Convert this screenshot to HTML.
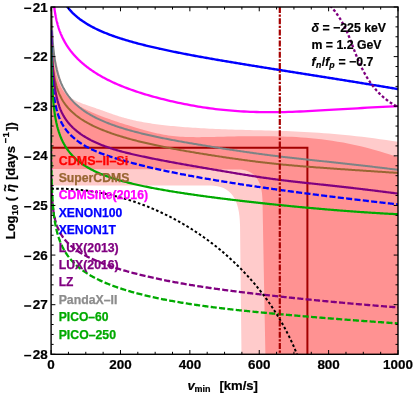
<!DOCTYPE html>
<html><head><meta charset="utf-8"><style>
html,body{margin:0;padding:0;background:#fff;}
body{width:413px;height:394px;overflow:hidden;}
svg{display:block;}
text{font-family:"Liberation Sans",sans-serif;font-weight:bold;}
.k text,text.k{stroke:#000;stroke-width:0.2px;}
</style></head><body>
<svg width="413" height="394" viewBox="0 0 413 394" style="will-change:transform">
<rect width="413" height="394" fill="#fff"/>
<defs><clipPath id="c"><rect x="51.1" y="7" width="346.9" height="347.3"/></clipPath></defs>
<g clip-path="url(#c)" fill="none" stroke-linecap="butt" stroke-linejoin="round">
<path d="M51.20 -8.38 L51.20 -8.00 L51.21 -7.61 L51.21 -7.22 L51.22 -6.83 L51.22 -6.44 L51.22 -6.05 L51.23 -5.66 L51.23 -5.27 L51.24 -4.88 L51.24 -4.48 L51.25 -4.09 L51.25 -3.70 L51.26 -3.30 L51.26 -2.90 L51.26 -2.51 L51.27 -2.11 L51.27 -1.71 L51.28 -1.32 L51.29 -0.92 L51.29 -0.52 L51.30 -0.12 L51.30 0.28 L51.31 0.68 L51.31 1.08 L51.32 1.48 L51.33 1.89 L51.33 2.29 L51.34 2.69 L51.34 3.09 L51.35 3.50 L51.36 3.90 L51.36 4.31 L51.37 4.71 L51.38 5.12 L51.38 5.52 L51.39 5.93 L51.40 6.33 L51.41 6.74 L51.41 7.15 L51.42 7.55 L51.43 7.96 L51.44 8.37 L51.45 8.78 L51.46 9.18 L51.46 9.59 L51.47 10.00 L51.48 10.41 L51.49 10.82 L51.50 11.23 L51.51 11.64 L51.52 12.05 L51.53 12.46 L51.54 12.87 L51.55 13.28 L51.56 13.69 L51.57 14.10 L51.58 14.51 L51.59 14.92 L51.60 15.33 L51.61 15.74 L51.63 16.15 L51.64 16.56 L51.65 16.97 L51.66 17.38 L51.67 17.79 L51.69 18.20 L51.70 18.61 L51.71 19.02 L51.73 19.43 L51.74 19.84 L51.75 20.25 L51.77 20.66 L51.78 21.07 L51.80 21.48 L51.81 21.89 L51.83 22.30 L51.84 22.71 L51.86 23.11 L51.88 23.52 L51.89 23.93 L51.91 24.34 L51.93 24.75 L51.94 25.16 L51.96 25.56 L51.98 25.97 L52.00 26.38 L52.02 26.78 L52.04 27.19 L52.06 27.60 L52.08 28.00 L52.10 28.41 L52.12 28.81 L52.14 29.22 L52.16 29.62 L52.18 30.03 L52.20 30.43 L52.23 30.83 L52.25 31.24 L52.27 31.64 L52.30 32.04 L52.32 32.44 L52.35 32.84 L52.37 33.24 L52.40 33.64 L52.42 34.04 L52.45 34.44 L52.48 34.84 L52.51 35.24 L52.54 35.64 L52.56 36.03 L52.59 36.43 L52.62 36.82 L52.65 37.22 L52.69 37.61 L52.72 38.01 L52.75 38.40 L52.78 38.79 L52.82 39.18 L52.85 39.58 L52.89 39.97 L52.92 40.36 L52.96 40.74 L53.00 41.13 L53.03 41.52 L53.07 41.91 L53.11 42.29 L53.15 42.68 L53.19 43.06 L53.23 43.45 L53.27 43.83 L53.32 44.21 L53.36 44.59 L53.41 44.97 L53.45 45.35 L53.50 45.73 L53.54 46.11 L53.59 46.48 L53.64 46.86 L53.69 47.23 L53.74 47.61 L53.79 47.98 L53.85 48.35 L53.90 48.72 L53.95 49.09 L54.01 49.46 L54.07 49.83 L54.13 50.20 L54.18 50.57 L54.24 50.93 L54.31 51.30 L54.37 51.67 L54.43 52.03 L54.50 52.40 L54.56 52.77 L54.63 53.14 L54.70 53.51 L54.77 53.88 L54.84 54.26 L54.91 54.64 L54.99 55.02 L55.06 55.40 L55.14 55.78 L55.22 56.17 L55.30 56.56 L55.38 56.95 L55.46 57.35 L55.54 57.75 L55.63 58.16 L55.72 58.57 L55.81 58.98 L55.90 59.40 L55.99 59.83 L56.08 60.26 L56.18 60.70 L56.28 61.14 L56.38 61.59 L56.48 62.04 L56.58 62.50 L56.69 62.97 L56.79 63.44 L56.90 63.92 L57.01 64.41 L57.13 64.91 L57.24 65.41 L57.36 65.93 L57.48 66.45 L57.60 66.98 L57.73 67.52 L57.86 68.06 L57.98 68.62 L58.12 69.19 L58.25 69.76 L58.39 70.35 L58.53 70.94 L58.67 71.54 L58.81 72.14 L58.96 72.75 L59.11 73.37 L59.27 73.99 L59.42 74.61 L59.58 75.24 L59.74 75.87 L59.91 76.50 L60.08 77.13 L60.25 77.77 L60.42 78.40 L60.60 79.03 L60.78 79.66 L60.96 80.29 L61.15 80.92 L61.34 81.54 L61.54 82.16 L61.74 82.77 L61.94 83.38 L62.15 83.98 L62.36 84.58 L62.57 85.16 L62.79 85.74 L63.01 86.32 L63.24 86.88 L63.47 87.43 L63.71 87.97 L63.95 88.50 L64.19 89.02 L64.44 89.53 L64.69 90.02 L64.95 90.50 L65.22 90.97 L65.48 91.42 L65.76 91.87 L66.04 92.30 L66.32 92.72 L66.61 93.13 L66.90 93.53 L67.20 93.92 L67.51 94.30 L67.82 94.67 L68.14 95.03 L68.46 95.39 L68.79 95.73 L69.13 96.07 L69.47 96.39 L69.82 96.71 L70.17 97.02 L70.54 97.33 L70.91 97.63 L71.28 97.92 L71.66 98.20 L72.05 98.48 L72.45 98.75 L72.86 99.02 L73.27 99.28 L73.69 99.54 L74.12 99.79 L74.55 100.04 L75.00 100.29 L75.45 100.53 L75.91 100.77 L76.38 101.00 L76.86 101.23 L77.35 101.46 L77.85 101.69 L78.35 101.92 L78.87 102.14 L79.40 102.36 L79.93 102.58 L80.48 102.81 L81.04 103.03 L81.60 103.25 L82.18 103.47 L82.77 103.69 L83.37 103.91 L83.98 104.14 L84.60 104.36 L85.24 104.59 L85.88 104.82 L86.54 105.05 L87.21 105.28 L87.90 105.52 L88.59 105.76 L89.30 106.00 L90.03 106.25 L90.76 106.50 L91.51 106.75 L92.28 107.01 L93.06 107.28 L93.85 107.55 L94.66 107.83 L95.48 108.11 L96.32 108.40 L97.18 108.69 L98.05 108.99 L98.94 109.30 L99.84 109.62 L100.77 109.94 L101.70 110.27 L102.66 110.61 L103.64 110.96 L104.63 111.32 L105.64 111.68 L106.67 112.05 L107.73 112.43 L108.80 112.82 L109.89 113.21 L111.00 113.60 L112.13 114.00 L113.29 114.40 L114.46 114.80 L115.66 115.20 L116.88 115.61 L118.12 116.01 L119.39 116.41 L120.68 116.81 L122.00 117.21 L123.34 117.60 L124.70 117.99 L126.09 118.37 L127.51 118.75 L128.96 119.12 L130.43 119.49 L131.93 119.85 L133.45 120.20 L135.01 120.54 L136.60 120.88 L138.21 121.21 L139.86 121.54 L141.54 121.85 L143.24 122.17 L144.99 122.47 L146.76 122.77 L148.57 123.06 L150.41 123.35 L152.29 123.63 L154.20 123.91 L156.15 124.17 L158.13 124.44 L160.15 124.69 L162.21 124.94 L164.31 125.19 L166.45 125.43 L168.63 125.66 L170.85 125.89 L173.11 126.11 L175.42 126.32 L177.77 126.53 L180.16 126.74 L182.60 126.94 L185.08 127.13 L187.61 127.32 L190.19 127.50 L192.82 127.68 L195.50 127.86 L198.23 128.02 L201.00 128.19 L203.84 128.34 L206.72 128.50 L209.66 128.64 L212.66 128.79 L215.71 128.92 L218.82 129.06 L221.98 129.18 L225.21 129.31 L228.50 129.43 L231.85 129.54 L235.26 129.65 L238.74 129.75 L242.29 129.85 L245.90 129.95 L249.58 130.04 L253.33 130.14 L257.14 130.23 L261.04 130.32 L265.00 130.42 L269.04 130.53 L273.16 130.65 L277.35 130.78 L281.62 130.92 L285.98 131.08 L290.41 131.26 L294.93 131.46 L299.54 131.68 L304.23 131.92 L309.01 132.20 L313.88 132.50 L318.84 132.83 L323.90 133.19 L329.05 133.59 L334.30 134.03 L339.64 134.51 L345.09 135.02 L350.64 135.58 L356.30 136.19 L362.06 136.85 L367.94 137.55 L373.92 138.31 L380.01 139.13 L386.22 139.99 L392.55 140.92 L399.00 141.91 L398 355 L241.5 355 L240.3 250 L240.05 226 C239.9 199 230.5 185.6 210.5 185.6 L51 185.4 Z" fill="#ffcbcb" stroke="none"/>
<path d="M51.15 -2.49 L51.15 -2.09 L51.16 -1.69 L51.16 -1.29 L51.16 -0.89 L51.17 -0.48 L51.17 -0.08 L51.17 0.33 L51.18 0.73 L51.18 1.14 L51.18 1.54 L51.19 1.95 L51.19 2.36 L51.19 2.76 L51.20 3.17 L51.20 3.58 L51.20 3.99 L51.21 4.40 L51.21 4.81 L51.22 5.22 L51.22 5.63 L51.23 6.04 L51.23 6.45 L51.23 6.86 L51.24 7.27 L51.24 7.69 L51.25 8.10 L51.25 8.51 L51.26 8.93 L51.26 9.34 L51.27 9.75 L51.27 10.17 L51.28 10.58 L51.28 11.00 L51.29 11.42 L51.30 11.83 L51.30 12.25 L51.31 12.67 L51.31 13.08 L51.32 13.50 L51.33 13.92 L51.33 14.34 L51.34 14.76 L51.35 15.17 L51.35 15.59 L51.36 16.01 L51.37 16.43 L51.37 16.85 L51.38 17.27 L51.39 17.69 L51.40 18.11 L51.40 18.53 L51.41 18.96 L51.42 19.38 L51.43 19.80 L51.44 20.22 L51.45 20.64 L51.45 21.06 L51.46 21.49 L51.47 21.91 L51.48 22.33 L51.49 22.76 L51.50 23.18 L51.51 23.60 L51.52 24.03 L51.53 24.45 L51.54 24.87 L51.55 25.30 L51.56 25.72 L51.57 26.15 L51.58 26.57 L51.60 27.00 L51.61 27.42 L51.62 27.85 L51.63 28.27 L51.64 28.70 L51.66 29.12 L51.67 29.55 L51.68 29.97 L51.70 30.40 L51.71 30.82 L51.72 31.25 L51.74 31.67 L51.75 32.10 L51.77 32.52 L51.78 32.95 L51.80 33.38 L51.81 33.80 L51.83 34.23 L51.84 34.65 L51.86 35.08 L51.88 35.51 L51.90 35.93 L51.91 36.36 L51.93 36.78 L51.95 37.21 L51.97 37.63 L51.99 38.06 L52.01 38.49 L52.03 38.91 L52.05 39.34 L52.07 39.76 L52.09 40.19 L52.11 40.61 L52.13 41.04 L52.15 41.47 L52.18 41.89 L52.20 42.32 L52.22 42.74 L52.25 43.17 L52.27 43.59 L52.30 44.02 L52.32 44.44 L52.35 44.86 L52.37 45.29 L52.40 45.71 L52.43 46.14 L52.46 46.56 L52.48 46.98 L52.51 47.41 L52.54 47.83 L52.57 48.25 L52.60 48.68 L52.64 49.10 L52.67 49.52 L52.70 49.95 L52.73 50.37 L52.77 50.79 L52.80 51.21 L52.84 51.63 L52.87 52.05 L52.91 52.48 L52.95 52.90 L52.99 53.32 L53.02 53.74 L53.06 54.16 L53.10 54.58 L53.15 55.00 L53.19 55.42 L53.23 55.84 L53.27 56.25 L53.32 56.67 L53.37 57.09 L53.41 57.51 L53.46 57.93 L53.51 58.34 L53.56 58.76 L53.61 59.18 L53.66 59.59 L53.71 60.01 L53.76 60.42 L53.82 60.84 L53.87 61.25 L53.93 61.67 L53.99 62.08 L54.04 62.50 L54.10 62.91 L54.16 63.32 L54.23 63.73 L54.29 64.15 L54.35 64.56 L54.42 64.97 L54.49 65.38 L54.56 65.79 L54.63 66.20 L54.70 66.61 L54.77 67.02 L54.84 67.43 L54.92 67.84 L55.00 68.24 L55.07 68.65 L55.15 69.06 L55.24 69.46 L55.32 69.87 L55.40 70.27 L55.49 70.68 L55.58 71.08 L55.67 71.49 L55.76 71.89 L55.85 72.29 L55.95 72.69 L56.04 73.10 L56.14 73.50 L56.24 73.90 L56.35 74.30 L56.45 74.70 L56.56 75.10 L56.67 75.49 L56.78 75.89 L56.89 76.29 L57.01 76.69 L57.13 77.08 L57.25 77.48 L57.37 77.87 L57.49 78.27 L57.62 78.66 L57.75 79.05 L57.88 79.44 L58.02 79.84 L58.16 80.23 L58.30 80.62 L58.44 81.01 L58.58 81.39 L58.73 81.78 L58.88 82.17 L59.04 82.56 L59.20 82.94 L59.36 83.33 L59.52 83.71 L59.69 84.10 L59.86 84.48 L60.03 84.86 L60.21 85.25 L60.39 85.63 L60.58 86.01 L60.76 86.39 L60.95 86.77 L61.15 87.14 L61.35 87.52 L61.55 87.90 L61.76 88.27 L61.97 88.65 L62.18 89.02 L62.40 89.40 L62.63 89.77 L62.86 90.14 L63.09 90.51 L63.33 90.88 L63.57 91.25 L63.81 91.62 L64.06 91.99 L64.32 92.35 L64.58 92.72 L64.85 93.09 L65.12 93.45 L65.40 93.81 L65.68 94.18 L65.97 94.54 L66.26 94.90 L66.56 95.26 L66.87 95.62 L67.18 95.98 L67.49 96.33 L67.82 96.69 L68.15 97.05 L68.48 97.40 L68.83 97.75 L69.18 98.11 L69.53 98.46 L69.90 98.81 L70.27 99.16 L70.64 99.51 L71.03 99.85 L71.42 100.20 L71.82 100.55 L72.23 100.89 L72.65 101.24 L73.07 101.58 L73.50 101.92 L73.95 102.26 L74.40 102.60 L74.85 102.94 L75.32 103.28 L75.80 103.62 L76.29 103.95 L76.78 104.29 L77.29 104.62 L77.80 104.96 L78.33 105.29 L78.86 105.63 L79.41 105.96 L79.97 106.29 L80.54 106.63 L81.12 106.96 L81.71 107.30 L82.31 107.63 L82.92 107.97 L83.55 108.30 L84.19 108.64 L84.84 108.98 L85.50 109.31 L86.18 109.65 L86.87 109.99 L87.57 110.33 L88.29 110.68 L89.02 111.02 L89.77 111.36 L90.53 111.71 L91.30 112.06 L92.09 112.41 L92.90 112.76 L93.72 113.11 L94.56 113.47 L95.41 113.83 L96.28 114.19 L97.17 114.55 L98.08 114.92 L99.00 115.28 L99.94 115.65 L100.90 116.03 L101.88 116.40 L102.88 116.78 L103.89 117.16 L104.93 117.55 L105.99 117.94 L107.07 118.33 L108.17 118.72 L109.29 119.12 L110.43 119.52 L111.60 119.93 L112.78 120.34 L114.00 120.75 L115.23 121.17 L116.49 121.59 L117.78 122.02 L119.09 122.45 L120.42 122.88 L121.78 123.32 L123.17 123.76 L124.59 124.21 L126.03 124.67 L127.50 125.12 L129.00 125.59 L130.53 126.06 L132.09 126.53 L133.68 127.01 L135.30 127.49 L136.96 127.98 L138.64 128.48 L140.36 128.98 L142.11 129.49 L143.90 130.00 L145.72 130.50 L147.58 131.01 L149.47 131.51 L151.40 132.01 L153.37 132.50 L155.38 132.97 L157.43 133.43 L159.52 133.87 L161.64 134.29 L163.81 134.69 L166.03 135.07 L168.28 135.41 L170.58 135.73 L172.93 136.02 L175.32 136.27 L177.76 136.48 L180.24 136.66 L182.78 136.81 L185.36 136.93 L188.00 137.02 L190.68 137.08 L193.42 137.12 L196.22 137.14 L199.06 137.14 L201.97 137.12 L204.93 137.09 L207.95 137.04 L211.02 136.98 L214.16 136.91 L217.36 136.83 L220.63 136.75 L223.95 136.67 L227.34 136.59 L230.80 136.50 L234.33 136.42 L237.92 136.35 L241.59 136.28 L245.33 136.23 L249.14 136.18 L253.02 136.15 L256.99 136.14 L261.03 136.14 L265.15 136.16 L269.35 136.21 L273.63 136.28 L277.99 136.38 L282.45 136.50 L286.98 136.66 L291.61 136.86 L296.33 137.11 L301.14 137.41 L306.05 137.77 L311.05 138.21 L316.15 138.71 L321.35 139.30 L326.65 139.98 L332.06 140.76 L337.57 141.64 L343.19 142.62 L348.92 143.73 L354.76 144.96 L360.72 146.32 L366.79 147.82 L372.99 149.47 L379.30 151.27 L385.74 153.22 L392.31 155.35 L399.00 157.64 L398 355 L265.4 355 L263.4 250 L262.5 200 C262.2 180 254 169.6 238 169.6 L51 168.9 Z" fill="#ff9292" stroke="none"/>
<path d="M51 147.8 H307.4 V355" stroke="#a30000" stroke-width="2" stroke-linejoin="miter"/>
<path d="M52.27 -49.21 L52.39 -47.24 L52.52 -45.26 L52.66 -43.29 L52.82 -41.32 L52.99 -39.34 L53.17 -37.37 L53.38 -35.40 L53.60 -33.43 L53.84 -31.46 L54.11 -29.49 L54.40 -27.51 L54.72 -25.54 L55.07 -23.57 L55.46 -21.61 L55.88 -19.64 L56.33 -17.67 L56.83 -15.70 L57.38 -13.74 L57.98 -11.77 L58.64 -9.81 L59.36 -7.84 L60.14 -5.88 L61.00 -3.92 L61.50 -2.85 L62.63 -0.63 L63.75 1.39 L64.88 3.24 L66.01 4.94 L67.14 6.52 L68.26 7.99 L69.39 9.36 L70.52 10.66 L71.64 11.88 L72.77 13.04 L73.90 14.13 L75.03 15.18 L76.15 16.17 L77.28 17.13 L78.41 18.04 L79.53 18.92 L80.66 19.76 L81.79 20.57 L82.91 21.35 L84.04 22.10 L85.17 22.83 L86.30 23.54 L87.42 24.22 L88.55 24.89 L89.68 25.53 L90.80 26.16 L91.93 26.76 L93.06 27.36 L94.19 27.93 L95.31 28.50 L96.44 29.04 L97.57 29.58 L98.69 30.10 L99.82 30.61 L100.95 31.11 L102.08 31.60 L103.20 32.08 L104.33 32.55 L105.46 33.01 L106.58 33.46 L107.71 33.90 L108.84 34.34 L109.96 34.76 L111.09 35.18 L112.22 35.59 L113.35 36.00 L114.47 36.39 L115.60 36.79 L116.73 37.17 L117.85 37.55 L118.98 37.92 L120.11 38.29 L121.24 38.65 L122.36 39.01 L123.49 39.36 L124.62 39.71 L125.74 40.05 L126.87 40.39 L128.00 40.72 L129.13 41.05 L130.25 41.37 L131.38 41.69 L132.51 42.01 L133.63 42.32 L134.76 42.63 L135.89 42.94 L137.02 43.24 L138.14 43.54 L139.27 43.84 L140.40 44.13 L141.52 44.42 L142.65 44.71 L143.78 44.99 L144.90 45.27 L146.03 45.55 L147.16 45.83 L148.29 46.10 L149.41 46.37 L150.54 46.64 L151.67 46.90 L152.79 47.17 L153.92 47.43 L155.05 47.69 L156.18 47.95 L157.30 48.20 L158.43 48.45 L159.56 48.71 L160.68 48.95 L161.81 49.20 L162.94 49.45 L164.07 49.69 L165.19 49.93 L166.32 50.17 L167.45 50.41 L168.57 50.65 L169.70 50.88 L170.83 51.12 L171.95 51.35 L173.08 51.58 L174.21 51.81 L175.34 52.04 L176.46 52.27 L177.59 52.49 L178.72 52.72 L179.84 52.94 L180.97 53.16 L182.10 53.38 L183.23 53.60 L184.35 53.82 L185.48 54.04 L186.61 54.25 L187.73 54.47 L188.86 54.68 L189.99 54.90 L191.12 55.11 L192.24 55.32 L193.37 55.53 L194.50 55.74 L195.62 55.95 L196.75 56.15 L197.88 56.36 L199.01 56.57 L200.13 56.77 L201.26 56.97 L202.39 57.18 L203.51 57.38 L204.64 57.58 L205.77 57.78 L206.89 57.98 L208.02 58.18 L209.15 58.38 L210.28 58.58 L211.40 58.78 L212.53 58.98 L213.66 59.17 L214.78 59.37 L215.91 59.56 L217.04 59.76 L218.17 59.95 L219.29 60.14 L220.42 60.34 L221.55 60.53 L222.67 60.72 L223.80 60.91 L224.93 61.11 L226.06 61.30 L227.18 61.49 L228.31 61.68 L229.44 61.86 L230.56 62.05 L231.69 62.24 L232.82 62.43 L233.94 62.62 L235.07 62.80 L236.20 62.99 L237.33 63.18 L238.45 63.36 L239.58 63.55 L240.71 63.74 L241.83 63.92 L242.96 64.11 L244.09 64.29 L245.22 64.47 L246.34 64.66 L247.47 64.84 L248.60 65.03 L249.72 65.21 L250.85 65.39 L251.98 65.57 L253.11 65.76 L254.23 65.94 L255.36 66.12 L256.49 66.30 L257.61 66.49 L258.74 66.67 L259.87 66.85 L260.99 67.03 L262.12 67.21 L263.25 67.39 L264.38 67.57 L265.50 67.75 L266.63 67.93 L267.76 68.11 L268.88 68.29 L270.01 68.47 L271.14 68.65 L272.27 68.83 L273.39 69.01 L274.52 69.19 L275.65 69.37 L276.77 69.55 L277.90 69.73 L279.03 69.91 L280.16 70.08 L281.28 70.26 L282.41 70.44 L283.54 70.62 L284.66 70.80 L285.79 70.98 L286.92 71.16 L288.05 71.34 L289.17 71.51 L290.30 71.69 L291.43 71.87 L292.55 72.05 L293.68 72.23 L294.81 72.41 L295.93 72.58 L297.06 72.76 L298.19 72.94 L299.32 73.12 L300.44 73.30 L301.57 73.48 L302.70 73.65 L303.82 73.83 L304.95 74.01 L306.08 74.19 L307.21 74.37 L308.33 74.55 L309.46 74.72 L310.59 74.90 L311.71 75.08 L312.84 75.26 L313.97 75.44 L315.10 75.62 L316.22 75.80 L317.35 75.97 L318.48 76.15 L319.60 76.33 L320.73 76.51 L321.86 76.69 L322.98 76.87 L324.11 77.05 L325.24 77.23 L326.37 77.41 L327.49 77.59 L328.62 77.77 L329.75 77.95 L330.87 78.13 L332.00 78.31 L333.13 78.49 L334.26 78.67 L335.38 78.85 L336.51 79.03 L337.64 79.21 L338.76 79.39 L339.89 79.57 L341.02 79.75 L342.15 79.93 L343.27 80.11 L344.40 80.29 L345.53 80.47 L346.65 80.65 L347.78 80.84 L348.91 81.02 L350.04 81.20 L351.16 81.38 L352.29 81.56 L353.42 81.75 L354.54 81.93 L355.67 82.11 L356.80 82.29 L357.92 82.48 L359.05 82.66 L360.18 82.84 L361.31 83.03 L362.43 83.21 L363.56 83.39 L364.69 83.58 L365.81 83.76 L366.94 83.95 L368.07 84.13 L369.20 84.31 L370.32 84.50 L371.45 84.68 L372.58 84.87 L373.70 85.06 L374.83 85.24 L375.96 85.43 L377.09 85.61 L378.21 85.80 L379.34 85.98 L380.47 86.17 L381.59 86.36 L382.72 86.54 L383.85 86.73 L384.97 86.92 L386.10 87.11 L387.23 87.29 L388.36 87.48 L389.48 87.67 L390.61 87.86 L391.74 88.05 L392.86 88.24 L393.99 88.43 L395.12 88.61 L396.25 88.80 L397.37 88.99 L398.50 89.18" stroke="#0000ff" stroke-width="2.4"/>
<path d="M51.60 -39.67 L51.61 -39.15 L51.62 -38.63 L51.63 -38.12 L51.64 -37.61 L51.65 -37.10 L51.66 -36.59 L51.67 -36.08 L51.68 -35.58 L51.69 -35.08 L51.70 -34.58 L51.72 -34.08 L51.73 -33.58 L51.74 -33.08 L51.75 -32.59 L51.76 -32.09 L51.77 -31.60 L51.79 -31.11 L51.80 -30.63 L51.81 -30.14 L51.83 -29.65 L51.84 -29.17 L51.85 -28.69 L51.87 -28.21 L51.88 -27.73 L51.89 -27.26 L51.91 -26.78 L51.92 -26.31 L51.94 -25.83 L51.95 -25.36 L51.97 -24.89 L51.98 -24.43 L52.00 -23.96 L52.02 -23.49 L52.03 -23.03 L52.05 -22.57 L52.07 -22.11 L52.08 -21.65 L52.10 -21.19 L52.12 -20.73 L52.14 -20.28 L52.15 -19.83 L52.17 -19.37 L52.19 -18.92 L52.21 -18.47 L52.23 -18.02 L52.25 -17.58 L52.27 -17.13 L52.29 -16.69 L52.31 -16.24 L52.33 -15.80 L52.35 -15.36 L52.37 -14.92 L52.40 -14.48 L52.42 -14.04 L52.44 -13.61 L52.47 -13.17 L52.49 -12.74 L52.51 -12.30 L52.54 -11.87 L52.56 -11.44 L52.59 -11.01 L52.61 -10.59 L52.64 -10.16 L52.66 -9.73 L52.69 -9.31 L52.72 -8.88 L52.75 -8.46 L52.77 -8.04 L52.80 -7.62 L52.83 -7.20 L52.86 -6.78 L52.89 -6.36 L52.92 -5.94 L52.95 -5.53 L52.98 -5.11 L53.02 -4.70 L53.05 -4.28 L53.08 -3.87 L53.11 -3.46 L53.15 -3.05 L53.18 -2.64 L53.22 -2.23 L53.25 -1.82 L53.29 -1.42 L53.33 -1.01 L53.36 -0.60 L53.40 -0.20 L53.44 0.20 L53.48 0.61 L53.52 1.01 L53.56 1.41 L53.60 1.81 L53.64 2.21 L53.69 2.61 L53.73 3.01 L53.77 3.41 L53.82 3.81 L53.86 4.20 L53.91 4.60 L53.96 4.99 L54.00 5.39 L54.05 5.78 L54.10 6.18 L54.15 6.57 L54.20 6.96 L54.25 7.36 L54.31 7.75 L54.36 8.14 L54.41 8.53 L54.47 8.92 L54.52 9.31 L54.58 9.70 L54.64 10.08 L54.70 10.47 L54.76 10.86 L54.82 11.25 L54.88 11.63 L54.94 12.02 L55.00 12.40 L55.07 12.79 L55.13 13.17 L55.20 13.56 L55.27 13.94 L55.33 14.33 L55.40 14.71 L55.48 15.09 L55.55 15.48 L55.62 15.86 L55.69 16.24 L55.77 16.62 L55.85 17.00 L55.92 17.39 L56.00 17.77 L56.08 18.15 L56.17 18.53 L56.25 18.91 L56.33 19.29 L56.42 19.67 L56.51 20.05 L56.59 20.43 L56.68 20.81 L56.78 21.19 L56.87 21.57 L56.96 21.95 L57.06 22.33 L57.16 22.70 L57.26 23.08 L57.36 23.46 L57.46 23.84 L57.56 24.22 L57.67 24.60 L57.77 24.98 L57.88 25.36 L57.99 25.74 L58.11 26.11 L58.22 26.49 L58.34 26.87 L58.45 27.25 L58.57 27.63 L58.70 28.01 L58.82 28.39 L58.95 28.77 L59.07 29.15 L59.20 29.53 L59.34 29.91 L59.47 30.29 L59.61 30.67 L59.74 31.05 L59.88 31.43 L60.03 31.81 L60.17 32.19 L60.32 32.57 L60.47 32.95 L60.62 33.33 L60.78 33.71 L60.93 34.10 L61.09 34.48 L61.26 34.86 L61.42 35.24 L61.59 35.63 L61.76 36.01 L61.93 36.40 L62.11 36.78 L62.29 37.16 L62.47 37.55 L62.65 37.94 L62.84 38.32 L63.03 38.71 L63.22 39.09 L63.42 39.48 L63.62 39.87 L63.82 40.26 L64.03 40.65 L64.24 41.03 L64.45 41.42 L64.67 41.81 L64.89 42.21 L65.11 42.60 L65.34 42.99 L65.57 43.38 L65.80 43.77 L66.04 44.17 L66.28 44.56 L66.53 44.96 L66.77 45.35 L67.03 45.75 L67.29 46.14 L67.55 46.54 L67.81 46.94 L68.08 47.34 L68.36 47.74 L68.64 48.14 L68.92 48.54 L69.21 48.94 L69.50 49.34 L69.80 49.74 L70.10 50.15 L70.41 50.55 L70.72 50.96 L71.04 51.36 L71.36 51.77 L71.69 52.18 L72.02 52.59 L72.36 53.00 L72.70 53.41 L73.05 53.82 L73.40 54.23 L73.76 54.64 L74.13 55.06 L74.50 55.47 L74.88 55.89 L75.26 56.30 L75.65 56.72 L76.05 57.14 L76.45 57.56 L76.86 57.98 L77.28 58.40 L77.70 58.82 L78.13 59.25 L78.57 59.67 L79.01 60.10 L79.46 60.52 L79.92 60.95 L80.38 61.38 L80.85 61.81 L81.33 62.24 L81.82 62.68 L82.32 63.11 L82.82 63.54 L83.33 63.98 L83.85 64.41 L84.38 64.85 L84.92 65.29 L85.46 65.73 L86.01 66.17 L86.58 66.61 L87.15 67.05 L87.73 67.49 L88.32 67.94 L88.92 68.38 L89.53 68.83 L90.15 69.27 L90.78 69.72 L91.42 70.17 L92.07 70.61 L92.73 71.06 L93.40 71.51 L94.08 71.96 L94.77 72.41 L95.48 72.86 L96.19 73.32 L96.92 73.77 L97.66 74.22 L98.41 74.67 L99.17 75.13 L99.94 75.58 L100.73 76.03 L101.53 76.49 L102.34 76.94 L103.17 77.40 L104.01 77.86 L104.86 78.31 L105.72 78.77 L106.60 79.22 L107.50 79.68 L108.41 80.14 L109.33 80.59 L110.27 81.05 L111.22 81.51 L112.19 81.97 L113.17 82.43 L114.17 82.88 L115.19 83.34 L116.22 83.80 L117.27 84.26 L118.33 84.71 L119.41 85.17 L120.51 85.63 L121.63 86.09 L122.77 86.55 L123.92 87.00 L125.09 87.46 L126.28 87.92 L127.49 88.38 L128.72 88.83 L129.97 89.29 L131.24 89.75 L132.53 90.20 L133.84 90.66 L135.17 91.11 L136.53 91.57 L137.90 92.02 L139.30 92.48 L140.72 92.93 L142.16 93.38 L143.63 93.84 L145.11 94.29 L146.63 94.74 L148.16 95.19 L149.73 95.65 L151.31 96.10 L152.93 96.55 L154.56 97.00 L156.23 97.44 L157.92 97.89 L159.64 98.34 L161.39 98.79 L163.16 99.23 L164.96 99.68 L166.80 100.12 L168.66 100.57 L170.55 101.01 L172.47 101.45 L174.42 101.89 L176.41 102.33 L178.42 102.77 L180.47 103.21 L182.55 103.64 L184.67 104.07 L186.82 104.49 L189.00 104.91 L191.22 105.32 L193.47 105.73 L195.76 106.13 L198.09 106.52 L200.45 106.91 L202.86 107.28 L205.30 107.65 L207.78 108.01 L210.30 108.36 L212.86 108.69 L215.46 109.02 L218.10 109.33 L220.79 109.63 L223.52 109.92 L226.29 110.19 L229.11 110.45 L231.97 110.69 L234.88 110.92 L237.84 111.13 L240.84 111.32 L243.90 111.50 L247.00 111.66 L250.15 111.80 L253.35 111.92 L256.60 112.02 L259.91 112.10 L263.26 112.16 L266.68 112.19 L270.14 112.21 L273.67 112.20 L277.25 112.17 L280.88 112.11 L284.58 112.03 L288.33 111.93 L292.15 111.81 L296.02 111.66 L299.96 111.50 L303.97 111.32 L308.03 111.12 L312.16 110.91 L316.36 110.69 L320.63 110.45 L324.96 110.20 L329.37 109.95 L333.84 109.68 L338.39 109.41 L343.01 109.13 L347.70 108.85 L352.47 108.57 L357.32 108.28 L362.24 108.00 L367.25 107.72 L372.33 107.44 L377.49 107.16 L382.74 106.89 L388.08 106.62 L393.49 106.37 L399.00 106.12" stroke="#ff00ff" stroke-width="2.3"/>
<path d="M51.05 -45.38 L51.05 -43.20 L51.06 -41.02 L51.07 -38.84 L51.07 -36.66 L51.08 -34.47 L51.09 -32.29 L51.09 -30.11 L51.10 -27.93 L51.11 -25.75 L51.12 -23.57 L51.13 -21.39 L51.15 -19.21 L51.16 -17.03 L51.18 -14.85 L51.19 -12.67 L51.21 -10.49 L51.23 -8.31 L51.25 -6.13 L51.28 -3.95 L51.30 -1.77 L51.33 0.41 L51.36 2.59 L51.39 4.77 L51.43 6.95 L51.47 9.13 L51.52 11.31 L51.56 13.49 L51.62 15.66 L51.68 17.84 L51.74 20.02 L51.81 22.20 L51.89 24.37 L51.97 26.55 L52.06 28.73 L52.16 30.90 L52.27 33.08 L52.39 35.25 L52.52 37.43 L52.66 39.60 L52.82 41.78 L52.99 43.95 L53.17 46.12 L53.38 48.29 L53.60 50.46 L53.84 52.63 L54.11 54.80 L54.40 56.96 L54.72 59.13 L55.07 61.29 L55.46 63.46 L55.88 65.62 L56.33 67.77 L56.83 69.93 L57.38 72.08 L57.98 74.24 L58.64 76.39 L59.36 78.53 L60.14 80.67 L61.00 82.81 L61.50 83.97 L62.63 86.40 L63.75 88.59 L64.88 90.59 L66.01 92.44 L67.14 94.14 L68.26 95.73 L69.39 97.22 L70.52 98.61 L71.64 99.92 L72.77 101.16 L73.90 102.34 L75.03 103.46 L76.15 104.52 L77.28 105.54 L78.41 106.51 L79.53 107.44 L80.66 108.33 L81.79 109.19 L82.91 110.02 L84.04 110.81 L85.17 111.58 L86.30 112.32 L87.42 113.04 L88.55 113.74 L89.68 114.41 L90.80 115.06 L91.93 115.70 L93.06 116.31 L94.19 116.91 L95.31 117.50 L96.44 118.06 L97.57 118.62 L98.69 119.16 L99.82 119.68 L100.95 120.20 L102.08 120.70 L103.20 121.19 L104.33 121.67 L105.46 122.13 L106.58 122.59 L107.71 123.04 L108.84 123.48 L109.96 123.91 L111.09 124.34 L112.22 124.75 L113.35 125.16 L114.47 125.56 L115.60 125.95 L116.73 126.33 L117.85 126.71 L118.98 127.08 L120.11 127.45 L121.24 127.80 L122.36 128.16 L123.49 128.50 L124.62 128.85 L125.74 129.18 L126.87 129.52 L128.00 129.84 L129.13 130.16 L130.25 130.48 L131.38 130.79 L132.51 131.10 L133.63 131.41 L134.76 131.71 L135.89 132.00 L137.02 132.29 L138.14 132.58 L139.27 132.87 L140.40 133.15 L141.52 133.42 L142.65 133.70 L143.78 133.97 L144.90 134.24 L146.03 134.50 L147.16 134.76 L148.29 135.02 L149.41 135.28 L150.54 135.53 L151.67 135.78 L152.79 136.03 L153.92 136.28 L155.05 136.52 L156.18 136.76 L157.30 137.00 L158.43 137.24 L159.56 137.47 L160.68 137.70 L161.81 137.93 L162.94 138.16 L164.07 138.39 L165.19 138.61 L166.32 138.83 L167.45 139.05 L168.57 139.27 L169.70 139.49 L170.83 139.70 L171.95 139.92 L173.08 140.13 L174.21 140.34 L175.34 140.55 L176.46 140.76 L177.59 140.96 L178.72 141.17 L179.84 141.37 L180.97 141.58 L182.10 141.78 L183.23 141.98 L184.35 142.18 L185.48 142.37 L186.61 142.57 L187.73 142.77 L188.86 142.96 L189.99 143.16 L191.12 143.35 L192.24 143.54 L193.37 143.73 L194.50 143.92 L195.62 144.11 L196.75 144.30 L197.88 144.49 L199.01 144.68 L200.13 144.86 L201.26 145.05 L202.39 145.23 L203.51 145.42 L204.64 145.60 L205.77 145.79 L206.89 145.97 L208.02 146.15 L209.15 146.33 L210.28 146.51 L211.40 146.69 L212.53 146.87 L213.66 147.05 L214.78 147.23 L215.91 147.41 L217.04 147.59 L218.17 147.77 L219.29 147.94 L220.42 148.12 L221.55 148.30 L222.67 148.47 L223.80 148.65 L224.93 148.82 L226.06 148.99 L227.18 149.17 L228.31 149.34 L229.44 149.51 L230.56 149.68 L231.69 149.86 L232.82 150.03 L233.94 150.20 L235.07 150.37 L236.20 150.54 L237.33 150.70 L238.45 150.87 L239.58 151.04 L240.71 151.21 L241.83 151.37 L242.96 151.54 L244.09 151.70 L245.22 151.87 L246.34 152.03 L247.47 152.19 L248.60 152.35 L249.72 152.51 L250.85 152.67 L251.98 152.83 L253.11 152.99 L254.23 153.15 L255.36 153.31 L256.49 153.46 L257.61 153.62 L258.74 153.77 L259.87 153.93 L260.99 154.08 L262.12 154.23 L263.25 154.38 L264.38 154.53 L265.50 154.68 L266.63 154.83 L267.76 154.97 L268.88 155.12 L270.01 155.26 L271.14 155.41 L272.27 155.55 L273.39 155.69 L274.52 155.84 L275.65 155.98 L276.77 156.11 L277.90 156.25 L279.03 156.39 L280.16 156.53 L281.28 156.66 L282.41 156.80 L283.54 156.93 L284.66 157.06 L285.79 157.20 L286.92 157.33 L288.05 157.46 L289.17 157.59 L290.30 157.72 L291.43 157.85 L292.55 157.97 L293.68 158.10 L294.81 158.23 L295.93 158.35 L297.06 158.48 L298.19 158.60 L299.32 158.73 L300.44 158.85 L301.57 158.97 L302.70 159.09 L303.82 159.22 L304.95 159.34 L306.08 159.46 L307.21 159.58 L308.33 159.70 L309.46 159.82 L310.59 159.94 L311.71 160.06 L312.84 160.18 L313.97 160.30 L315.10 160.42 L316.22 160.54 L317.35 160.66 L318.48 160.78 L319.60 160.90 L320.73 161.01 L321.86 161.13 L322.98 161.25 L324.11 161.37 L325.24 161.49 L326.37 161.61 L327.49 161.73 L328.62 161.85 L329.75 161.97 L330.87 162.09 L332.00 162.21 L333.13 162.33 L334.26 162.45 L335.38 162.57 L336.51 162.69 L337.64 162.81 L338.76 162.94 L339.89 163.06 L341.02 163.18 L342.15 163.30 L343.27 163.43 L344.40 163.55 L345.53 163.67 L346.65 163.80 L347.78 163.92 L348.91 164.05 L350.04 164.17 L351.16 164.30 L352.29 164.42 L353.42 164.55 L354.54 164.67 L355.67 164.80 L356.80 164.93 L357.92 165.06 L359.05 165.18 L360.18 165.31 L361.31 165.44 L362.43 165.57 L363.56 165.70 L364.69 165.83 L365.81 165.96 L366.94 166.09 L368.07 166.22 L369.20 166.35 L370.32 166.48 L371.45 166.61 L372.58 166.74 L373.70 166.88 L374.83 167.01 L375.96 167.14 L377.09 167.27 L378.21 167.41 L379.34 167.54 L380.47 167.67 L381.59 167.81 L382.72 167.94 L383.85 168.08 L384.97 168.21 L386.10 168.35 L387.23 168.48 L388.36 168.62 L389.48 168.75 L390.61 168.89 L391.74 169.02 L392.86 169.16 L393.99 169.30 L395.12 169.43 L396.25 169.57 L397.37 169.71 L398.50 169.85" stroke="#7d8385" stroke-width="2.0"/>
<path d="M51.05 -2.28 L51.05 -0.59 L51.06 1.09 L51.07 2.78 L51.07 4.46 L51.08 6.15 L51.09 7.83 L51.09 9.51 L51.10 11.20 L51.11 12.88 L51.12 14.57 L51.13 16.25 L51.15 17.94 L51.16 19.62 L51.18 21.31 L51.19 22.99 L51.21 24.68 L51.23 26.36 L51.25 28.05 L51.28 29.73 L51.30 31.42 L51.33 33.10 L51.36 34.79 L51.39 36.47 L51.43 38.16 L51.47 39.84 L51.52 41.53 L51.56 43.22 L51.62 44.90 L51.68 46.59 L51.74 48.28 L51.81 49.96 L51.89 51.65 L51.97 53.34 L52.06 55.03 L52.16 56.72 L52.27 58.40 L52.39 60.09 L52.52 61.78 L52.66 63.47 L52.82 65.16 L52.99 66.86 L53.17 68.55 L53.38 70.24 L53.60 71.94 L53.84 73.63 L54.11 75.33 L54.40 77.02 L54.72 78.72 L55.07 80.42 L55.46 82.12 L55.88 83.82 L56.33 85.53 L56.83 87.23 L57.38 88.94 L57.98 90.65 L58.64 92.36 L59.36 94.08 L60.14 95.80 L61.00 97.52 L61.50 98.46 L62.63 100.42 L63.75 102.20 L64.88 103.84 L66.01 105.35 L67.14 106.75 L68.26 108.07 L69.39 109.30 L70.52 110.46 L71.64 111.57 L72.77 112.61 L73.90 113.60 L75.03 114.55 L76.15 115.46 L77.28 116.33 L78.41 117.16 L79.53 117.96 L80.66 118.74 L81.79 119.48 L82.91 120.20 L84.04 120.90 L85.17 121.58 L86.30 122.23 L87.42 122.87 L88.55 123.48 L89.68 124.08 L90.80 124.67 L91.93 125.24 L93.06 125.79 L94.19 126.33 L95.31 126.86 L96.44 127.37 L97.57 127.88 L98.69 128.37 L99.82 128.85 L100.95 129.33 L102.08 129.79 L103.20 130.24 L104.33 130.69 L105.46 131.12 L106.58 131.55 L107.71 131.97 L108.84 132.38 L109.96 132.79 L111.09 133.19 L112.22 133.58 L113.35 133.96 L114.47 134.34 L115.60 134.71 L116.73 135.08 L117.85 135.44 L118.98 135.80 L120.11 136.15 L121.24 136.49 L122.36 136.83 L123.49 137.17 L124.62 137.50 L125.74 137.83 L126.87 138.15 L128.00 138.47 L129.13 138.78 L130.25 139.09 L131.38 139.40 L132.51 139.70 L133.63 140.00 L134.76 140.29 L135.89 140.58 L137.02 140.87 L138.14 141.16 L139.27 141.44 L140.40 141.72 L141.52 141.99 L142.65 142.26 L143.78 142.53 L144.90 142.80 L146.03 143.06 L147.16 143.32 L148.29 143.58 L149.41 143.84 L150.54 144.09 L151.67 144.34 L152.79 144.59 L153.92 144.84 L155.05 145.08 L156.18 145.32 L157.30 145.56 L158.43 145.80 L159.56 146.03 L160.68 146.27 L161.81 146.50 L162.94 146.73 L164.07 146.95 L165.19 147.18 L166.32 147.40 L167.45 147.62 L168.57 147.84 L169.70 148.06 L170.83 148.28 L171.95 148.49 L173.08 148.71 L174.21 148.92 L175.34 149.13 L176.46 149.34 L177.59 149.55 L178.72 149.75 L179.84 149.96 L180.97 150.16 L182.10 150.36 L183.23 150.56 L184.35 150.76 L185.48 150.96 L186.61 151.16 L187.73 151.36 L188.86 151.55 L189.99 151.74 L191.12 151.94 L192.24 152.13 L193.37 152.32 L194.50 152.51 L195.62 152.70 L196.75 152.89 L197.88 153.07 L199.01 153.26 L200.13 153.44 L201.26 153.63 L202.39 153.81 L203.51 153.99 L204.64 154.17 L205.77 154.36 L206.89 154.54 L208.02 154.71 L209.15 154.89 L210.28 155.07 L211.40 155.25 L212.53 155.42 L213.66 155.60 L214.78 155.77 L215.91 155.95 L217.04 156.12 L218.17 156.29 L219.29 156.46 L220.42 156.63 L221.55 156.80 L222.67 156.97 L223.80 157.14 L224.93 157.31 L226.06 157.48 L227.18 157.64 L228.31 157.81 L229.44 157.97 L230.56 158.14 L231.69 158.30 L232.82 158.46 L233.94 158.62 L235.07 158.78 L236.20 158.94 L237.33 159.10 L238.45 159.26 L239.58 159.42 L240.71 159.57 L241.83 159.73 L242.96 159.88 L244.09 160.03 L245.22 160.19 L246.34 160.34 L247.47 160.49 L248.60 160.63 L249.72 160.78 L250.85 160.93 L251.98 161.07 L253.11 161.22 L254.23 161.36 L255.36 161.50 L256.49 161.64 L257.61 161.78 L258.74 161.92 L259.87 162.06 L260.99 162.19 L262.12 162.33 L263.25 162.46 L264.38 162.59 L265.50 162.72 L266.63 162.85 L267.76 162.98 L268.88 163.11 L270.01 163.23 L271.14 163.36 L272.27 163.48 L273.39 163.60 L274.52 163.72 L275.65 163.84 L276.77 163.96 L277.90 164.07 L279.03 164.19 L280.16 164.30 L281.28 164.41 L282.41 164.53 L283.54 164.64 L284.66 164.74 L285.79 164.85 L286.92 164.96 L288.05 165.06 L289.17 165.17 L290.30 165.27 L291.43 165.37 L292.55 165.47 L293.68 165.57 L294.81 165.67 L295.93 165.77 L297.06 165.86 L298.19 165.96 L299.32 166.05 L300.44 166.15 L301.57 166.24 L302.70 166.33 L303.82 166.42 L304.95 166.51 L306.08 166.60 L307.21 166.69 L308.33 166.78 L309.46 166.87 L310.59 166.95 L311.71 167.04 L312.84 167.12 L313.97 167.21 L315.10 167.29 L316.22 167.38 L317.35 167.46 L318.48 167.54 L319.60 167.62 L320.73 167.71 L321.86 167.79 L322.98 167.87 L324.11 167.95 L325.24 168.03 L326.37 168.11 L327.49 168.19 L328.62 168.27 L329.75 168.35 L330.87 168.43 L332.00 168.51 L333.13 168.59 L334.26 168.66 L335.38 168.74 L336.51 168.82 L337.64 168.90 L338.76 168.98 L339.89 169.06 L341.02 169.13 L342.15 169.21 L343.27 169.29 L344.40 169.37 L345.53 169.44 L346.65 169.52 L347.78 169.60 L348.91 169.67 L350.04 169.75 L351.16 169.83 L352.29 169.90 L353.42 169.98 L354.54 170.06 L355.67 170.13 L356.80 170.21 L357.92 170.29 L359.05 170.36 L360.18 170.44 L361.31 170.52 L362.43 170.59 L363.56 170.67 L364.69 170.74 L365.81 170.82 L366.94 170.90 L368.07 170.97 L369.20 171.05 L370.32 171.12 L371.45 171.20 L372.58 171.27 L373.70 171.35 L374.83 171.42 L375.96 171.50 L377.09 171.57 L378.21 171.64 L379.34 171.72 L380.47 171.79 L381.59 171.87 L382.72 171.94 L383.85 172.01 L384.97 172.09 L386.10 172.16 L387.23 172.23 L388.36 172.30 L389.48 172.38 L390.61 172.45 L391.74 172.52 L392.86 172.59 L393.99 172.66 L395.12 172.74 L396.25 172.81 L397.37 172.88 L398.50 172.95" stroke="#996633" stroke-width="2.0"/>
<path d="M51.34 31.26 L51.37 33.05 L51.40 34.84 L51.44 36.63 L51.48 38.42 L51.52 40.21 L51.57 42.00 L51.62 43.79 L51.67 45.58 L51.73 47.37 L51.79 49.16 L51.86 50.95 L51.93 52.74 L52.01 54.53 L52.09 56.32 L52.18 58.11 L52.28 59.90 L52.39 61.69 L52.50 63.48 L52.62 65.27 L52.74 67.06 L52.88 68.85 L53.02 70.64 L53.17 72.44 L53.34 74.23 L53.51 76.02 L53.69 77.81 L53.89 79.60 L54.10 81.39 L54.32 83.18 L54.55 84.98 L54.80 86.77 L55.07 88.56 L55.36 90.36 L55.67 92.15 L56.01 93.94 L56.37 95.74 L56.76 97.53 L57.19 99.33 L57.65 101.12 L58.16 102.92 L58.72 104.72 L59.33 106.52 L60.00 108.32 L60.74 110.12 L61.55 111.93 L62.02 112.91 L63.10 114.96 L64.17 116.83 L65.26 118.54 L66.34 120.12 L67.43 121.59 L68.53 122.96 L69.63 124.24 L70.73 125.46 L71.83 126.60 L72.94 127.69 L74.05 128.72 L75.16 129.71 L76.27 130.65 L77.39 131.55 L78.50 132.42 L79.62 133.25 L80.74 134.05 L81.86 134.81 L82.98 135.56 L84.10 136.27 L85.22 136.97 L86.34 137.64 L87.46 138.29 L88.59 138.92 L89.71 139.52 L90.83 140.12 L91.96 140.69 L93.08 141.25 L94.21 141.79 L95.33 142.32 L96.46 142.83 L97.58 143.33 L98.71 143.81 L99.83 144.29 L100.96 144.75 L102.08 145.20 L103.21 145.63 L104.34 146.06 L105.46 146.47 L106.59 146.88 L107.72 147.28 L108.84 147.66 L109.97 148.04 L111.10 148.41 L112.22 148.77 L113.35 149.13 L114.48 149.47 L115.60 149.81 L116.73 150.14 L117.86 150.47 L118.98 150.79 L120.11 151.10 L121.24 151.41 L122.36 151.71 L123.49 152.00 L124.62 152.29 L125.74 152.58 L126.87 152.86 L128.00 153.14 L129.13 153.42 L130.25 153.69 L131.38 153.95 L132.51 154.22 L133.63 154.48 L134.76 154.73 L135.89 154.99 L137.02 155.24 L138.14 155.49 L139.27 155.73 L140.40 155.98 L141.52 156.22 L142.65 156.46 L143.78 156.70 L144.90 156.93 L146.03 157.17 L147.16 157.40 L148.29 157.63 L149.41 157.86 L150.54 158.09 L151.67 158.32 L152.79 158.55 L153.92 158.77 L155.05 158.99 L156.18 159.22 L157.30 159.44 L158.43 159.66 L159.56 159.88 L160.68 160.09 L161.81 160.31 L162.94 160.53 L164.07 160.74 L165.19 160.96 L166.32 161.17 L167.45 161.38 L168.57 161.59 L169.70 161.80 L170.83 162.01 L171.95 162.22 L173.08 162.43 L174.21 162.64 L175.34 162.84 L176.46 163.05 L177.59 163.25 L178.72 163.46 L179.84 163.66 L180.97 163.86 L182.10 164.07 L183.23 164.27 L184.35 164.47 L185.48 164.67 L186.61 164.87 L187.73 165.07 L188.86 165.27 L189.99 165.46 L191.12 165.66 L192.24 165.86 L193.37 166.06 L194.50 166.25 L195.62 166.45 L196.75 166.64 L197.88 166.84 L199.01 167.03 L200.13 167.23 L201.26 167.42 L202.39 167.62 L203.51 167.81 L204.64 168.00 L205.77 168.20 L206.89 168.39 L208.02 168.58 L209.15 168.78 L210.28 168.97 L211.40 169.16 L212.53 169.35 L213.66 169.55 L214.78 169.74 L215.91 169.93 L217.04 170.12 L218.17 170.31 L219.29 170.51 L220.42 170.70 L221.55 170.89 L222.67 171.08 L223.80 171.27 L224.93 171.46 L226.06 171.65 L227.18 171.84 L228.31 172.03 L229.44 172.22 L230.56 172.41 L231.69 172.60 L232.82 172.79 L233.94 172.98 L235.07 173.17 L236.20 173.36 L237.33 173.54 L238.45 173.73 L239.58 173.92 L240.71 174.10 L241.83 174.29 L242.96 174.47 L244.09 174.66 L245.22 174.84 L246.34 175.02 L247.47 175.20 L248.60 175.38 L249.72 175.56 L250.85 175.74 L251.98 175.92 L253.11 176.10 L254.23 176.27 L255.36 176.45 L256.49 176.62 L257.61 176.79 L258.74 176.96 L259.87 177.13 L260.99 177.30 L262.12 177.47 L263.25 177.63 L264.38 177.80 L265.50 177.96 L266.63 178.12 L267.76 178.28 L268.88 178.44 L270.01 178.60 L271.14 178.76 L272.27 178.91 L273.39 179.06 L274.52 179.21 L275.65 179.36 L276.77 179.51 L277.90 179.66 L279.03 179.80 L280.16 179.95 L281.28 180.09 L282.41 180.23 L283.54 180.37 L284.66 180.51 L285.79 180.65 L286.92 180.78 L288.05 180.92 L289.17 181.05 L290.30 181.18 L291.43 181.31 L292.55 181.44 L293.68 181.57 L294.81 181.70 L295.93 181.83 L297.06 181.95 L298.19 182.08 L299.32 182.20 L300.44 182.32 L301.57 182.45 L302.70 182.57 L303.82 182.69 L304.95 182.81 L306.08 182.93 L307.21 183.05 L308.33 183.17 L309.46 183.29 L310.59 183.41 L311.71 183.53 L312.84 183.65 L313.97 183.76 L315.10 183.88 L316.22 184.00 L317.35 184.12 L318.48 184.24 L319.60 184.36 L320.73 184.47 L321.86 184.59 L322.98 184.71 L324.11 184.83 L325.24 184.95 L326.37 185.07 L327.49 185.19 L328.62 185.31 L329.75 185.43 L330.87 185.55 L332.00 185.68 L333.13 185.80 L334.26 185.92 L335.38 186.04 L336.51 186.17 L337.64 186.29 L338.76 186.42 L339.89 186.54 L341.02 186.67 L342.15 186.79 L343.27 186.92 L344.40 187.05 L345.53 187.17 L346.65 187.30 L347.78 187.43 L348.91 187.56 L350.04 187.69 L351.16 187.82 L352.29 187.95 L353.42 188.08 L354.54 188.22 L355.67 188.35 L356.80 188.48 L357.92 188.62 L359.05 188.75 L360.18 188.88 L361.31 189.02 L362.43 189.16 L363.56 189.29 L364.69 189.43 L365.81 189.56 L366.94 189.70 L368.07 189.84 L369.20 189.98 L370.32 190.11 L371.45 190.25 L372.58 190.39 L373.70 190.53 L374.83 190.67 L375.96 190.81 L377.09 190.95 L378.21 191.09 L379.34 191.23 L380.47 191.37 L381.59 191.51 L382.72 191.65 L383.85 191.80 L384.97 191.94 L386.10 192.08 L387.23 192.22 L388.36 192.36 L389.48 192.51 L390.61 192.65 L391.74 192.79 L392.86 192.94 L393.99 193.08 L395.12 193.22 L396.25 193.37 L397.37 193.51 L398.50 193.65" stroke="#800080" stroke-width="2.2"/>
<path d="M51.09 29.94 L51.10 31.50 L51.11 33.06 L51.12 34.61 L51.13 36.17 L51.14 37.73 L51.16 39.29 L51.17 40.84 L51.19 42.40 L51.20 43.96 L51.22 45.52 L51.24 47.07 L51.27 48.63 L51.29 50.19 L51.32 51.75 L51.35 53.31 L51.38 54.86 L51.41 56.42 L51.45 57.98 L51.49 59.54 L51.53 61.10 L51.58 62.66 L51.63 64.22 L51.68 65.78 L51.74 67.34 L51.81 68.90 L51.88 70.46 L51.95 72.02 L52.03 73.58 L52.12 75.14 L52.21 76.70 L52.31 78.27 L52.42 79.83 L52.53 81.39 L52.65 82.96 L52.78 84.52 L52.92 86.09 L53.07 87.66 L53.23 89.22 L53.40 90.79 L53.58 92.36 L53.77 93.93 L53.97 95.51 L54.19 97.08 L54.43 98.65 L54.68 100.23 L54.94 101.81 L55.23 103.39 L55.54 104.97 L55.88 106.56 L56.25 108.15 L56.64 109.74 L57.07 111.33 L57.54 112.93 L58.06 114.54 L58.62 116.14 L59.24 117.75 L59.92 119.37 L60.66 121.00 L61.48 122.63 L61.95 123.52 L63.03 125.39 L64.12 127.09 L65.21 128.66 L66.30 130.12 L67.39 131.47 L68.49 132.75 L69.60 133.95 L70.70 135.08 L71.81 136.16 L72.92 137.18 L74.03 138.15 L75.14 139.09 L76.26 139.98 L77.37 140.84 L78.49 141.66 L79.61 142.45 L80.73 143.21 L81.85 143.94 L82.97 144.65 L84.09 145.34 L85.21 146.00 L86.33 146.63 L87.46 147.25 L88.58 147.85 L89.70 148.43 L90.83 148.99 L91.95 149.53 L93.08 150.06 L94.20 150.57 L95.33 151.07 L96.45 151.55 L97.58 152.02 L98.71 152.48 L99.83 152.93 L100.96 153.36 L102.08 153.79 L103.21 154.20 L104.34 154.61 L105.46 155.01 L106.59 155.40 L107.72 155.78 L108.84 156.16 L109.97 156.53 L111.10 156.89 L112.22 157.25 L113.35 157.60 L114.48 157.95 L115.60 158.29 L116.73 158.63 L117.86 158.97 L118.98 159.30 L120.11 159.63 L121.24 159.96 L122.36 160.28 L123.49 160.60 L124.62 160.91 L125.74 161.23 L126.87 161.54 L128.00 161.85 L129.13 162.16 L130.25 162.46 L131.38 162.76 L132.51 163.06 L133.63 163.36 L134.76 163.66 L135.89 163.95 L137.02 164.24 L138.14 164.53 L139.27 164.81 L140.40 165.10 L141.52 165.38 L142.65 165.66 L143.78 165.94 L144.90 166.21 L146.03 166.49 L147.16 166.76 L148.29 167.03 L149.41 167.30 L150.54 167.56 L151.67 167.83 L152.79 168.09 L153.92 168.35 L155.05 168.60 L156.18 168.86 L157.30 169.11 L158.43 169.36 L159.56 169.61 L160.68 169.86 L161.81 170.11 L162.94 170.35 L164.07 170.59 L165.19 170.84 L166.32 171.08 L167.45 171.31 L168.57 171.55 L169.70 171.78 L170.83 172.02 L171.95 172.25 L173.08 172.48 L174.21 172.71 L175.34 172.93 L176.46 173.16 L177.59 173.38 L178.72 173.61 L179.84 173.83 L180.97 174.05 L182.10 174.27 L183.23 174.48 L184.35 174.70 L185.48 174.92 L186.61 175.13 L187.73 175.34 L188.86 175.55 L189.99 175.76 L191.12 175.97 L192.24 176.18 L193.37 176.39 L194.50 176.59 L195.62 176.80 L196.75 177.00 L197.88 177.21 L199.01 177.41 L200.13 177.61 L201.26 177.81 L202.39 178.01 L203.51 178.20 L204.64 178.40 L205.77 178.60 L206.89 178.79 L208.02 178.99 L209.15 179.18 L210.28 179.37 L211.40 179.56 L212.53 179.75 L213.66 179.94 L214.78 180.13 L215.91 180.32 L217.04 180.51 L218.17 180.69 L219.29 180.88 L220.42 181.07 L221.55 181.25 L222.67 181.43 L223.80 181.62 L224.93 181.80 L226.06 181.98 L227.18 182.16 L228.31 182.34 L229.44 182.52 L230.56 182.70 L231.69 182.87 L232.82 183.05 L233.94 183.23 L235.07 183.40 L236.20 183.58 L237.33 183.75 L238.45 183.93 L239.58 184.10 L240.71 184.27 L241.83 184.44 L242.96 184.62 L244.09 184.79 L245.22 184.96 L246.34 185.13 L247.47 185.29 L248.60 185.46 L249.72 185.63 L250.85 185.80 L251.98 185.96 L253.11 186.13 L254.23 186.30 L255.36 186.46 L256.49 186.63 L257.61 186.79 L258.74 186.95 L259.87 187.12 L260.99 187.28 L262.12 187.44 L263.25 187.60 L264.38 187.76 L265.50 187.92 L266.63 188.08 L267.76 188.24 L268.88 188.40 L270.01 188.56 L271.14 188.72 L272.27 188.88 L273.39 189.03 L274.52 189.19 L275.65 189.35 L276.77 189.50 L277.90 189.66 L279.03 189.81 L280.16 189.97 L281.28 190.12 L282.41 190.28 L283.54 190.43 L284.66 190.58 L285.79 190.74 L286.92 190.89 L288.05 191.04 L289.17 191.19 L290.30 191.34 L291.43 191.49 L292.55 191.64 L293.68 191.79 L294.81 191.94 L295.93 192.09 L297.06 192.24 L298.19 192.39 L299.32 192.54 L300.44 192.69 L301.57 192.83 L302.70 192.98 L303.82 193.13 L304.95 193.27 L306.08 193.42 L307.21 193.56 L308.33 193.71 L309.46 193.85 L310.59 194.00 L311.71 194.14 L312.84 194.29 L313.97 194.43 L315.10 194.57 L316.22 194.72 L317.35 194.86 L318.48 195.00 L319.60 195.15 L320.73 195.29 L321.86 195.43 L322.98 195.57 L324.11 195.71 L325.24 195.85 L326.37 195.99 L327.49 196.13 L328.62 196.27 L329.75 196.41 L330.87 196.55 L332.00 196.69 L333.13 196.83 L334.26 196.97 L335.38 197.10 L336.51 197.24 L337.64 197.38 L338.76 197.52 L339.89 197.65 L341.02 197.79 L342.15 197.93 L343.27 198.06 L344.40 198.20 L345.53 198.33 L346.65 198.47 L347.78 198.60 L348.91 198.74 L350.04 198.87 L351.16 199.01 L352.29 199.14 L353.42 199.28 L354.54 199.41 L355.67 199.54 L356.80 199.68 L357.92 199.81 L359.05 199.94 L360.18 200.08 L361.31 200.21 L362.43 200.34 L363.56 200.47 L364.69 200.60 L365.81 200.73 L366.94 200.87 L368.07 201.00 L369.20 201.13 L370.32 201.26 L371.45 201.39 L372.58 201.52 L373.70 201.65 L374.83 201.78 L375.96 201.91 L377.09 202.04 L378.21 202.17 L379.34 202.29 L380.47 202.42 L381.59 202.55 L382.72 202.68 L383.85 202.81 L384.97 202.94 L386.10 203.06 L387.23 203.19 L388.36 203.32 L389.48 203.44 L390.61 203.57 L391.74 203.70 L392.86 203.82 L393.99 203.95 L395.12 204.08 L396.25 204.20 L397.37 204.33 L398.50 204.45" stroke="#0000ff" stroke-width="2.3" stroke-dasharray="6.1 2.3"/>
<path d="M51.25 46.07 L51.28 48.34 L51.30 50.61 L51.33 52.87 L51.36 55.14 L51.39 57.40 L51.43 59.67 L51.47 61.93 L51.52 64.19 L51.56 66.46 L51.62 68.72 L51.68 70.98 L51.74 73.24 L51.81 75.50 L51.89 77.76 L51.97 80.02 L52.06 82.27 L52.16 84.53 L52.27 86.78 L52.39 89.03 L52.52 91.29 L52.66 93.54 L52.82 95.78 L52.99 98.03 L53.17 100.27 L53.38 102.51 L53.60 104.75 L53.84 106.99 L54.11 109.22 L54.40 111.45 L54.72 113.67 L55.07 115.89 L55.46 118.11 L55.88 120.32 L56.33 122.53 L56.83 124.73 L57.38 126.93 L57.98 129.11 L58.64 131.30 L59.36 133.47 L60.14 135.63 L61.00 137.79 L61.50 138.96 L62.63 141.39 L63.75 143.58 L64.88 145.57 L66.01 147.40 L67.14 149.09 L68.26 150.65 L69.39 152.11 L70.52 153.48 L71.64 154.76 L72.77 155.96 L73.90 157.10 L75.03 158.18 L76.15 159.21 L77.28 160.19 L78.41 161.12 L79.53 162.01 L80.66 162.86 L81.79 163.67 L82.91 164.46 L84.04 165.21 L85.17 165.93 L86.30 166.63 L87.42 167.30 L88.55 167.95 L89.68 168.58 L90.80 169.19 L91.93 169.78 L93.06 170.35 L94.19 170.90 L95.31 171.44 L96.44 171.97 L97.57 172.47 L98.69 172.97 L99.82 173.45 L100.95 173.92 L102.08 174.38 L103.20 174.82 L104.33 175.26 L105.46 175.68 L106.58 176.10 L107.71 176.50 L108.84 176.90 L109.96 177.29 L111.09 177.67 L112.22 178.04 L113.35 178.41 L114.47 178.77 L115.60 179.12 L116.73 179.46 L117.85 179.80 L118.98 180.13 L120.11 180.45 L121.24 180.77 L122.36 181.09 L123.49 181.40 L124.62 181.70 L125.74 182.00 L126.87 182.29 L128.00 182.58 L129.13 182.87 L130.25 183.15 L131.38 183.42 L132.51 183.70 L133.63 183.97 L134.76 184.23 L135.89 184.49 L137.02 184.75 L138.14 185.00 L139.27 185.25 L140.40 185.50 L141.52 185.74 L142.65 185.98 L143.78 186.22 L144.90 186.46 L146.03 186.69 L147.16 186.92 L148.29 187.15 L149.41 187.37 L150.54 187.59 L151.67 187.81 L152.79 188.03 L153.92 188.25 L155.05 188.46 L156.18 188.67 L157.30 188.88 L158.43 189.08 L159.56 189.29 L160.68 189.49 L161.81 189.69 L162.94 189.89 L164.07 190.09 L165.19 190.28 L166.32 190.48 L167.45 190.67 L168.57 190.86 L169.70 191.05 L170.83 191.23 L171.95 191.42 L173.08 191.60 L174.21 191.79 L175.34 191.97 L176.46 192.15 L177.59 192.33 L178.72 192.50 L179.84 192.68 L180.97 192.85 L182.10 193.03 L183.23 193.20 L184.35 193.37 L185.48 193.54 L186.61 193.71 L187.73 193.87 L188.86 194.04 L189.99 194.21 L191.12 194.37 L192.24 194.53 L193.37 194.70 L194.50 194.86 L195.62 195.02 L196.75 195.18 L197.88 195.33 L199.01 195.49 L200.13 195.65 L201.26 195.80 L202.39 195.96 L203.51 196.11 L204.64 196.27 L205.77 196.42 L206.89 196.57 L208.02 196.72 L209.15 196.87 L210.28 197.02 L211.40 197.17 L212.53 197.32 L213.66 197.46 L214.78 197.61 L215.91 197.76 L217.04 197.90 L218.17 198.04 L219.29 198.19 L220.42 198.33 L221.55 198.47 L222.67 198.61 L223.80 198.75 L224.93 198.89 L226.06 199.03 L227.18 199.17 L228.31 199.31 L229.44 199.45 L230.56 199.59 L231.69 199.72 L232.82 199.86 L233.94 199.99 L235.07 200.13 L236.20 200.26 L237.33 200.40 L238.45 200.53 L239.58 200.66 L240.71 200.79 L241.83 200.93 L242.96 201.06 L244.09 201.19 L245.22 201.32 L246.34 201.45 L247.47 201.57 L248.60 201.70 L249.72 201.83 L250.85 201.96 L251.98 202.08 L253.11 202.21 L254.23 202.34 L255.36 202.46 L256.49 202.59 L257.61 202.71 L258.74 202.84 L259.87 202.96 L260.99 203.08 L262.12 203.20 L263.25 203.33 L264.38 203.45 L265.50 203.57 L266.63 203.69 L267.76 203.81 L268.88 203.93 L270.01 204.05 L271.14 204.16 L272.27 204.28 L273.39 204.40 L274.52 204.52 L275.65 204.63 L276.77 204.75 L277.90 204.87 L279.03 204.98 L280.16 205.10 L281.28 205.21 L282.41 205.32 L283.54 205.44 L284.66 205.55 L285.79 205.66 L286.92 205.77 L288.05 205.89 L289.17 206.00 L290.30 206.11 L291.43 206.22 L292.55 206.33 L293.68 206.44 L294.81 206.55 L295.93 206.65 L297.06 206.76 L298.19 206.87 L299.32 206.98 L300.44 207.08 L301.57 207.19 L302.70 207.29 L303.82 207.40 L304.95 207.50 L306.08 207.61 L307.21 207.71 L308.33 207.81 L309.46 207.92 L310.59 208.02 L311.71 208.12 L312.84 208.22 L313.97 208.32 L315.10 208.42 L316.22 208.52 L317.35 208.62 L318.48 208.72 L319.60 208.82 L320.73 208.91 L321.86 209.01 L322.98 209.11 L324.11 209.20 L325.24 209.30 L326.37 209.39 L327.49 209.49 L328.62 209.58 L329.75 209.67 L330.87 209.77 L332.00 209.86 L333.13 209.95 L334.26 210.04 L335.38 210.13 L336.51 210.22 L337.64 210.31 L338.76 210.40 L339.89 210.49 L341.02 210.58 L342.15 210.67 L343.27 210.75 L344.40 210.84 L345.53 210.92 L346.65 211.01 L347.78 211.09 L348.91 211.18 L350.04 211.26 L351.16 211.34 L352.29 211.43 L353.42 211.51 L354.54 211.59 L355.67 211.67 L356.80 211.75 L357.92 211.83 L359.05 211.91 L360.18 211.99 L361.31 212.06 L362.43 212.14 L363.56 212.22 L364.69 212.29 L365.81 212.37 L366.94 212.44 L368.07 212.52 L369.20 212.59 L370.32 212.66 L371.45 212.73 L372.58 212.80 L373.70 212.87 L374.83 212.94 L375.96 213.01 L377.09 213.08 L378.21 213.15 L379.34 213.22 L380.47 213.28 L381.59 213.35 L382.72 213.42 L383.85 213.48 L384.97 213.54 L386.10 213.61 L387.23 213.67 L388.36 213.73 L389.48 213.79 L390.61 213.85 L391.74 213.91 L392.86 213.97 L393.99 214.03 L395.12 214.09 L396.25 214.14 L397.37 214.20 L398.50 214.26" stroke="#00aa00" stroke-width="2.2"/>
<path d="M51.05 149.67 L51.05 151.09 L51.06 152.51 L51.07 153.93 L51.07 155.35 L51.08 156.77 L51.09 158.19 L51.09 159.61 L51.10 161.03 L51.11 162.45 L51.12 163.87 L51.13 165.29 L51.15 166.71 L51.16 168.13 L51.18 169.56 L51.19 170.98 L51.21 172.40 L51.23 173.82 L51.25 175.24 L51.28 176.66 L51.30 178.08 L51.33 179.51 L51.36 180.93 L51.39 182.35 L51.43 183.77 L51.47 185.20 L51.52 186.62 L51.56 188.04 L51.62 189.47 L51.68 190.89 L51.74 192.32 L51.81 193.74 L51.89 195.17 L51.97 196.59 L52.06 198.02 L52.16 199.45 L52.27 200.88 L52.39 202.31 L52.52 203.74 L52.66 205.17 L52.82 206.60 L52.99 208.03 L53.17 209.47 L53.38 210.90 L53.60 212.34 L53.84 213.78 L54.11 215.22 L54.40 216.66 L54.72 218.11 L55.07 219.55 L55.46 221.00 L55.88 222.45 L56.33 223.91 L56.83 225.37 L57.38 226.83 L57.98 228.30 L58.64 229.77 L59.36 231.24 L60.14 232.72 L61.00 234.21 L61.50 235.02 L62.63 236.71 L63.75 238.26 L64.88 239.69 L66.01 241.01 L67.14 242.24 L68.26 243.40 L69.39 244.48 L70.52 245.51 L71.64 246.48 L72.77 247.41 L73.90 248.30 L75.03 249.14 L76.15 249.95 L77.28 250.73 L78.41 251.48 L79.53 252.21 L80.66 252.91 L81.79 253.58 L82.91 254.24 L84.04 254.87 L85.17 255.49 L86.30 256.09 L87.42 256.67 L88.55 257.24 L89.68 257.80 L90.80 258.34 L91.93 258.86 L93.06 259.38 L94.19 259.88 L95.31 260.38 L96.44 260.86 L97.57 261.33 L98.69 261.80 L99.82 262.25 L100.95 262.70 L102.08 263.14 L103.20 263.57 L104.33 263.99 L105.46 264.41 L106.58 264.82 L107.71 265.22 L108.84 265.62 L109.96 266.01 L111.09 266.40 L112.22 266.77 L113.35 267.15 L114.47 267.52 L115.60 267.88 L116.73 268.24 L117.85 268.59 L118.98 268.94 L120.11 269.28 L121.24 269.62 L122.36 269.96 L123.49 270.29 L124.62 270.62 L125.74 270.94 L126.87 271.26 L128.00 271.57 L129.13 271.89 L130.25 272.19 L131.38 272.50 L132.51 272.80 L133.63 273.10 L134.76 273.39 L135.89 273.69 L137.02 273.97 L138.14 274.26 L139.27 274.54 L140.40 274.82 L141.52 275.10 L142.65 275.37 L143.78 275.65 L144.90 275.91 L146.03 276.18 L147.16 276.44 L148.29 276.70 L149.41 276.96 L150.54 277.22 L151.67 277.47 L152.79 277.72 L153.92 277.97 L155.05 278.22 L156.18 278.46 L157.30 278.70 L158.43 278.94 L159.56 279.18 L160.68 279.41 L161.81 279.65 L162.94 279.88 L164.07 280.11 L165.19 280.33 L166.32 280.56 L167.45 280.78 L168.57 281.00 L169.70 281.22 L170.83 281.44 L171.95 281.65 L173.08 281.86 L174.21 282.07 L175.34 282.28 L176.46 282.49 L177.59 282.70 L178.72 282.90 L179.84 283.10 L180.97 283.30 L182.10 283.50 L183.23 283.70 L184.35 283.90 L185.48 284.09 L186.61 284.28 L187.73 284.47 L188.86 284.66 L189.99 284.85 L191.12 285.03 L192.24 285.22 L193.37 285.40 L194.50 285.58 L195.62 285.76 L196.75 285.94 L197.88 286.12 L199.01 286.30 L200.13 286.47 L201.26 286.64 L202.39 286.82 L203.51 286.99 L204.64 287.16 L205.77 287.33 L206.89 287.49 L208.02 287.66 L209.15 287.82 L210.28 287.99 L211.40 288.15 L212.53 288.31 L213.66 288.47 L214.78 288.63 L215.91 288.79 L217.04 288.95 L218.17 289.10 L219.29 289.26 L220.42 289.41 L221.55 289.56 L222.67 289.72 L223.80 289.87 L224.93 290.02 L226.06 290.17 L227.18 290.32 L228.31 290.46 L229.44 290.61 L230.56 290.76 L231.69 290.90 L232.82 291.05 L233.94 291.19 L235.07 291.33 L236.20 291.47 L237.33 291.62 L238.45 291.76 L239.58 291.90 L240.71 292.04 L241.83 292.17 L242.96 292.31 L244.09 292.45 L245.22 292.59 L246.34 292.72 L247.47 292.86 L248.60 292.99 L249.72 293.13 L250.85 293.26 L251.98 293.39 L253.11 293.53 L254.23 293.66 L255.36 293.79 L256.49 293.92 L257.61 294.05 L258.74 294.18 L259.87 294.31 L260.99 294.44 L262.12 294.57 L263.25 294.70 L264.38 294.82 L265.50 294.95 L266.63 295.08 L267.76 295.20 L268.88 295.33 L270.01 295.45 L271.14 295.58 L272.27 295.70 L273.39 295.83 L274.52 295.95 L275.65 296.08 L276.77 296.20 L277.90 296.32 L279.03 296.44 L280.16 296.57 L281.28 296.69 L282.41 296.81 L283.54 296.93 L284.66 297.05 L285.79 297.17 L286.92 297.29 L288.05 297.41 L289.17 297.53 L290.30 297.64 L291.43 297.76 L292.55 297.88 L293.68 298.00 L294.81 298.12 L295.93 298.23 L297.06 298.35 L298.19 298.46 L299.32 298.58 L300.44 298.70 L301.57 298.81 L302.70 298.93 L303.82 299.04 L304.95 299.15 L306.08 299.27 L307.21 299.38 L308.33 299.49 L309.46 299.61 L310.59 299.72 L311.71 299.83 L312.84 299.94 L313.97 300.05 L315.10 300.16 L316.22 300.28 L317.35 300.39 L318.48 300.50 L319.60 300.61 L320.73 300.71 L321.86 300.82 L322.98 300.93 L324.11 301.04 L325.24 301.15 L326.37 301.26 L327.49 301.36 L328.62 301.47 L329.75 301.58 L330.87 301.68 L332.00 301.79 L333.13 301.89 L334.26 302.00 L335.38 302.10 L336.51 302.21 L337.64 302.31 L338.76 302.42 L339.89 302.52 L341.02 302.62 L342.15 302.73 L343.27 302.83 L344.40 302.93 L345.53 303.03 L346.65 303.14 L347.78 303.24 L348.91 303.34 L350.04 303.44 L351.16 303.54 L352.29 303.64 L353.42 303.74 L354.54 303.84 L355.67 303.93 L356.80 304.03 L357.92 304.13 L359.05 304.23 L360.18 304.33 L361.31 304.42 L362.43 304.52 L363.56 304.62 L364.69 304.71 L365.81 304.81 L366.94 304.90 L368.07 305.00 L369.20 305.09 L370.32 305.19 L371.45 305.28 L372.58 305.38 L373.70 305.47 L374.83 305.56 L375.96 305.66 L377.09 305.75 L378.21 305.84 L379.34 305.93 L380.47 306.02 L381.59 306.11 L382.72 306.21 L383.85 306.30 L384.97 306.39 L386.10 306.48 L387.23 306.56 L388.36 306.65 L389.48 306.74 L390.61 306.83 L391.74 306.92 L392.86 307.01 L393.99 307.10 L395.12 307.18 L396.25 307.27 L397.37 307.36 L398.50 307.44" stroke="#800080" stroke-width="2.3" stroke-dasharray="6.1 2.3"/>
<path d="M51.05 119.86 L51.05 121.96 L51.06 124.06 L51.07 126.16 L51.07 128.26 L51.08 130.36 L51.09 132.46 L51.09 134.57 L51.10 136.67 L51.11 138.77 L51.12 140.87 L51.13 142.97 L51.15 145.07 L51.16 147.17 L51.18 149.27 L51.19 151.38 L51.21 153.48 L51.23 155.58 L51.25 157.68 L51.28 159.78 L51.30 161.88 L51.33 163.98 L51.36 166.08 L51.39 168.18 L51.43 170.28 L51.47 172.39 L51.52 174.49 L51.56 176.59 L51.62 178.69 L51.68 180.79 L51.74 182.89 L51.81 184.99 L51.89 187.09 L51.97 189.19 L52.06 191.29 L52.16 193.39 L52.27 195.49 L52.39 197.59 L52.52 199.69 L52.66 201.79 L52.82 203.89 L52.99 205.98 L53.17 208.08 L53.38 210.18 L53.60 212.28 L53.84 214.38 L54.11 216.47 L54.40 218.57 L54.72 220.67 L55.07 222.76 L55.46 224.86 L55.88 226.95 L56.33 229.05 L56.83 231.14 L57.38 233.23 L57.98 235.33 L58.64 237.42 L59.36 239.51 L60.14 241.60 L61.00 243.69 L61.50 244.82 L62.63 247.19 L63.75 249.34 L64.88 251.31 L66.01 253.12 L67.14 254.80 L68.26 256.36 L69.39 257.83 L70.52 259.20 L71.64 260.50 L72.77 261.73 L73.90 262.90 L75.03 264.01 L76.15 265.07 L77.28 266.08 L78.41 267.05 L79.53 267.98 L80.66 268.87 L81.79 269.73 L82.91 270.56 L84.04 271.36 L85.17 272.13 L86.30 272.88 L87.42 273.61 L88.55 274.31 L89.68 274.99 L90.80 275.65 L91.93 276.29 L93.06 276.92 L94.19 277.53 L95.31 278.12 L96.44 278.70 L97.57 279.26 L98.69 279.81 L99.82 280.35 L100.95 280.87 L102.08 281.38 L103.20 281.88 L104.33 282.38 L105.46 282.86 L106.58 283.33 L107.71 283.79 L108.84 284.24 L109.96 284.68 L111.09 285.12 L112.22 285.54 L113.35 285.96 L114.47 286.37 L115.60 286.78 L116.73 287.18 L117.85 287.57 L118.98 287.95 L120.11 288.33 L121.24 288.70 L122.36 289.06 L123.49 289.42 L124.62 289.77 L125.74 290.12 L126.87 290.46 L128.00 290.80 L129.13 291.13 L130.25 291.46 L131.38 291.79 L132.51 292.10 L133.63 292.42 L134.76 292.73 L135.89 293.03 L137.02 293.33 L138.14 293.63 L139.27 293.92 L140.40 294.21 L141.52 294.49 L142.65 294.78 L143.78 295.05 L144.90 295.33 L146.03 295.60 L147.16 295.86 L148.29 296.13 L149.41 296.39 L150.54 296.65 L151.67 296.90 L152.79 297.15 L153.92 297.40 L155.05 297.64 L156.18 297.88 L157.30 298.12 L158.43 298.36 L159.56 298.59 L160.68 298.82 L161.81 299.05 L162.94 299.28 L164.07 299.50 L165.19 299.72 L166.32 299.94 L167.45 300.15 L168.57 300.37 L169.70 300.58 L170.83 300.78 L171.95 300.99 L173.08 301.19 L174.21 301.39 L175.34 301.59 L176.46 301.79 L177.59 301.98 L178.72 302.18 L179.84 302.37 L180.97 302.56 L182.10 302.74 L183.23 302.93 L184.35 303.11 L185.48 303.29 L186.61 303.47 L187.73 303.65 L188.86 303.82 L189.99 304.00 L191.12 304.17 L192.24 304.34 L193.37 304.51 L194.50 304.67 L195.62 304.84 L196.75 305.00 L197.88 305.16 L199.01 305.32 L200.13 305.48 L201.26 305.64 L202.39 305.79 L203.51 305.95 L204.64 306.10 L205.77 306.25 L206.89 306.40 L208.02 306.55 L209.15 306.70 L210.28 306.85 L211.40 306.99 L212.53 307.13 L213.66 307.28 L214.78 307.42 L215.91 307.56 L217.04 307.70 L218.17 307.83 L219.29 307.97 L220.42 308.11 L221.55 308.24 L222.67 308.37 L223.80 308.51 L224.93 308.64 L226.06 308.77 L227.18 308.90 L228.31 309.03 L229.44 309.15 L230.56 309.28 L231.69 309.41 L232.82 309.53 L233.94 309.66 L235.07 309.78 L236.20 309.90 L237.33 310.02 L238.45 310.15 L239.58 310.27 L240.71 310.38 L241.83 310.50 L242.96 310.62 L244.09 310.74 L245.22 310.86 L246.34 310.97 L247.47 311.09 L248.60 311.20 L249.72 311.32 L250.85 311.43 L251.98 311.54 L253.11 311.66 L254.23 311.77 L255.36 311.88 L256.49 311.99 L257.61 312.10 L258.74 312.21 L259.87 312.32 L260.99 312.43 L262.12 312.54 L263.25 312.64 L264.38 312.75 L265.50 312.86 L266.63 312.97 L267.76 313.07 L268.88 313.18 L270.01 313.28 L271.14 313.39 L272.27 313.49 L273.39 313.60 L274.52 313.70 L275.65 313.80 L276.77 313.91 L277.90 314.01 L279.03 314.11 L280.16 314.21 L281.28 314.31 L282.41 314.42 L283.54 314.52 L284.66 314.62 L285.79 314.72 L286.92 314.82 L288.05 314.92 L289.17 315.02 L290.30 315.11 L291.43 315.21 L292.55 315.31 L293.68 315.41 L294.81 315.51 L295.93 315.60 L297.06 315.70 L298.19 315.80 L299.32 315.89 L300.44 315.99 L301.57 316.09 L302.70 316.18 L303.82 316.28 L304.95 316.37 L306.08 316.47 L307.21 316.56 L308.33 316.66 L309.46 316.75 L310.59 316.84 L311.71 316.94 L312.84 317.03 L313.97 317.12 L315.10 317.22 L316.22 317.31 L317.35 317.40 L318.48 317.49 L319.60 317.59 L320.73 317.68 L321.86 317.77 L322.98 317.86 L324.11 317.95 L325.24 318.04 L326.37 318.13 L327.49 318.22 L328.62 318.31 L329.75 318.40 L330.87 318.49 L332.00 318.58 L333.13 318.67 L334.26 318.76 L335.38 318.84 L336.51 318.93 L337.64 319.02 L338.76 319.11 L339.89 319.19 L341.02 319.28 L342.15 319.37 L343.27 319.46 L344.40 319.54 L345.53 319.63 L346.65 319.71 L347.78 319.80 L348.91 319.89 L350.04 319.97 L351.16 320.06 L352.29 320.14 L353.42 320.23 L354.54 320.31 L355.67 320.39 L356.80 320.48 L357.92 320.56 L359.05 320.65 L360.18 320.73 L361.31 320.81 L362.43 320.89 L363.56 320.98 L364.69 321.06 L365.81 321.14 L366.94 321.22 L368.07 321.31 L369.20 321.39 L370.32 321.47 L371.45 321.55 L372.58 321.63 L373.70 321.71 L374.83 321.79 L375.96 321.87 L377.09 321.95 L378.21 322.03 L379.34 322.11 L380.47 322.19 L381.59 322.27 L382.72 322.35 L383.85 322.43 L384.97 322.51 L386.10 322.59 L387.23 322.67 L388.36 322.75 L389.48 322.83 L390.61 322.90 L391.74 322.98 L392.86 323.06 L393.99 323.14 L395.12 323.21 L396.25 323.29 L397.37 323.37 L398.50 323.44" stroke="#00aa00" stroke-width="2.3" stroke-dasharray="6.1 2.3"/>
<path d="M51.30 188.68 L52.89 188.65 L54.48 188.64 L56.07 188.63 L57.66 188.63 L59.25 188.65 L60.84 188.67 L62.43 188.71 L64.01 188.76 L65.60 188.82 L67.18 188.89 L68.77 188.97 L70.35 189.06 L71.93 189.16 L73.51 189.27 L75.09 189.40 L76.67 189.53 L78.24 189.67 L79.82 189.83 L81.39 189.99 L82.96 190.17 L84.54 190.35 L86.10 190.55 L87.67 190.75 L89.24 190.97 L90.80 191.20 L92.37 191.43 L93.93 191.68 L95.49 191.94 L97.05 192.20 L98.60 192.48 L100.16 192.77 L101.71 193.06 L103.26 193.37 L104.81 193.69 L106.35 194.02 L107.90 194.35 L109.44 194.70 L110.98 195.05 L112.52 195.42 L114.05 195.80 L115.58 196.18 L117.11 196.58 L118.64 196.98 L120.17 197.40 L121.69 197.82 L123.21 198.25 L124.73 198.69 L126.24 199.15 L127.75 199.61 L129.26 200.08 L130.77 200.56 L132.27 201.05 L133.77 201.55 L135.27 202.05 L136.77 202.57 L138.26 203.10 L139.75 203.63 L141.23 204.18 L142.72 204.73 L144.19 205.29 L145.67 205.86 L147.14 206.44 L148.61 207.03 L150.08 207.63 L151.54 208.24 L153.00 208.85 L154.45 209.48 L155.90 210.11 L157.35 210.75 L158.80 211.40 L160.24 212.06 L161.67 212.73 L163.11 213.41 L164.54 214.09 L165.96 214.78 L167.38 215.48 L168.80 216.19 L170.21 216.91 L171.62 217.64 L173.02 218.37 L174.43 219.12 L175.82 219.87 L177.21 220.63 L178.60 221.40 L179.98 222.17 L181.36 222.96 L182.74 223.75 L184.11 224.55 L185.47 225.36 L186.83 226.17 L188.19 227.00 L189.54 227.83 L190.89 228.67 L192.23 229.51 L193.56 230.37 L194.90 231.23 L196.22 232.10 L197.55 232.98 L198.86 233.87 L200.17 234.76 L201.48 235.66 L202.78 236.57 L204.08 237.49 L205.37 238.41 L206.66 239.34 L207.94 240.28 L209.21 241.22 L210.48 242.18 L211.75 243.14 L213.00 244.11 L214.26 245.08 L215.50 246.06 L216.75 247.05 L217.98 248.05 L219.21 249.05 L220.44 250.06 L221.65 251.08 L222.87 252.10 L224.07 253.13 L225.27 254.17 L226.47 255.22 L227.66 256.27 L228.84 257.33 L230.02 258.39 L231.19 259.46 L232.35 260.54 L233.51 261.63 L234.66 262.72 L235.80 263.82 L236.94 264.92 L238.07 266.03 L239.20 267.15 L240.32 268.28 L241.43 269.41 L242.53 270.55 L243.63 271.69 L244.72 272.84 L245.81 274.00 L246.89 275.16 L247.96 276.33 L249.02 277.50 L250.08 278.68 L251.13 279.87 L252.17 281.06 L253.21 282.26 L254.24 283.47 L255.26 284.68 L256.27 285.89 L257.28 287.12 L258.28 288.35 L259.27 289.58 L260.25 290.82 L261.23 292.07 L262.20 293.32 L263.16 294.57 L264.12 295.84 L265.06 297.11 L266.00 298.38 L266.93 299.66 L267.86 300.95 L268.77 302.24 L269.68 303.53 L270.58 304.83 L271.47 306.14 L272.35 307.45 L273.23 308.77 L274.09 310.09 L274.95 311.42 L275.80 312.75 L276.65 314.09 L277.48 315.43 L278.30 316.78 L279.12 318.14 L279.93 319.49 L280.73 320.86 L281.52 322.23 L282.30 323.60 L283.08 324.98 L283.84 326.36 L284.60 327.75 L285.35 329.14 L286.09 330.54 L286.82 331.94 L287.54 333.35 L288.25 334.76 L288.95 336.17 L289.65 337.59 L290.33 339.02 L291.01 340.45 L291.67 341.88 L292.33 343.32 L292.98 344.76 L293.62 346.21 L294.25 347.66 L294.87 349.11 L295.48 350.57 L296.08 352.04 L296.67 353.50 L297.25 354.98" stroke="#000000" stroke-width="2.0" stroke-dasharray="2.6 2.3"/>
<path d="M326.57 2.23 L327.07 2.70 L327.56 3.16 L328.04 3.63 L328.53 4.10 L329.00 4.58 L329.47 5.06 L329.94 5.54 L330.40 6.03 L330.85 6.52 L331.30 7.01 L331.74 7.51 L332.18 8.00 L332.62 8.51 L333.04 9.01 L333.47 9.52 L333.89 10.03 L334.30 10.54 L334.71 11.06 L335.12 11.58 L335.52 12.10 L335.91 12.63 L336.31 13.16 L336.69 13.69 L337.07 14.22 L337.45 14.75 L337.83 15.29 L338.19 15.83 L338.56 16.38 L338.92 16.92 L339.28 17.47 L339.63 18.02 L339.98 18.57 L340.32 19.13 L340.66 19.68 L341.00 20.24 L341.33 20.80 L341.66 21.36 L341.98 21.93 L342.30 22.50 L342.62 23.06 L342.93 23.63 L343.24 24.21 L343.55 24.78 L343.85 25.36 L344.15 25.93 L344.44 26.51 L344.73 27.09 L345.02 27.67 L345.31 28.26 L345.59 28.84 L345.87 29.43 L346.15 30.02 L346.42 30.61 L346.69 31.20 L346.95 31.79 L347.22 32.38 L347.48 32.97 L347.74 33.57 L347.99 34.17 L348.24 34.76 L348.50 35.36 L348.74 35.96 L348.99 36.56 L349.24 37.16 L349.48 37.76 L349.72 38.36 L349.96 38.97 L350.20 39.57 L350.43 40.17 L350.67 40.78 L350.90 41.38 L351.13 41.99 L351.37 42.60 L351.60 43.20 L351.83 43.81 L352.06 44.42 L352.29 45.02 L352.51 45.63 L352.74 46.24 L352.97 46.85 L353.20 47.45 L353.43 48.06 L353.66 48.67 L353.89 49.28 L354.12 49.89 L354.35 50.49 L354.58 51.10 L354.81 51.71 L355.04 52.32 L355.28 52.92 L355.51 53.53 L355.75 54.14 L355.98 54.74 L356.22 55.35 L356.46 55.95 L356.71 56.55 L356.95 57.16 L357.20 57.76 L357.44 58.36 L357.70 58.96 L357.95 59.56 L358.20 60.16 L358.46 60.76 L358.72 61.36 L358.98 61.96 L359.24 62.55 L359.51 63.15 L359.78 63.74 L360.05 64.33 L360.33 64.92 L360.60 65.51 L360.88 66.10 L361.16 66.69 L361.45 67.27 L361.73 67.86 L362.02 68.44 L362.32 69.02 L362.61 69.60 L362.91 70.18 L363.21 70.76 L363.51 71.33 L363.82 71.90 L364.13 72.48 L364.44 73.05 L364.76 73.61 L365.08 74.18 L365.40 74.74 L365.72 75.31 L366.05 75.87 L366.38 76.42 L366.72 76.98 L367.05 77.53 L367.39 78.08 L367.74 78.63 L368.09 79.18 L368.44 79.72 L368.79 80.27 L369.15 80.80 L369.51 81.34 L369.87 81.88 L370.24 82.41 L370.61 82.94 L370.99 83.46 L371.37 83.99 L371.75 84.51 L372.13 85.03 L372.52 85.54 L372.92 86.06 L373.32 86.57 L373.72 87.07 L374.12 87.58 L374.53 88.08 L374.94 88.57 L375.36 89.07 L375.78 89.56 L376.21 90.05 L376.63 90.53 L377.07 91.01 L377.50 91.49 L377.94 91.97 L378.39 92.44 L378.84 92.91 L379.29 93.37 L379.75 93.83 L380.21 94.29 L380.68 94.74 L381.15 95.19 L381.63 95.64 L382.11 96.08 L382.59 96.52 L383.08 96.95 L383.57 97.38 L384.07 97.81 L384.57 98.23 L385.08 98.65 L385.59 99.06 L386.11 99.47 L386.63 99.88 L387.16 100.28 L387.69 100.68 L388.22 101.07 L388.76 101.46 L389.31 101.84 L389.86 102.22 L390.42 102.60 L390.98 102.97 L391.54 103.33 L392.11 103.70 L392.69 104.05 L393.27 104.40 L393.85 104.75 L394.44 105.09 L395.04 105.43 L395.64 105.76 L396.25 106.09 L396.86 106.41 L397.48 106.73 L398.10 107.04 L398.73 107.35" stroke="#800080" stroke-width="2.3" stroke-dasharray="2.8 2.2"/>
<path d="M279.8 7 V355" stroke="#a50000" stroke-width="2.2" stroke-dasharray="6 1.5 2.2 1.5"/>
</g>
<text x="58.7" y="164.5" font-size="12" fill="#ff0000" stroke="#ff0000" stroke-width="0.25" textLength="69.5" lengthAdjust="spacingAndGlyphs">CDMS–II–Si</text>
<text x="58.7" y="181.9" font-size="12" fill="#996633" stroke="#996633" stroke-width="0.25" textLength="70.7" lengthAdjust="spacingAndGlyphs">SuperCDMS</text>
<text x="58.7" y="199.3" font-size="12" fill="#ff00ff" stroke="#ff00ff" stroke-width="0.25" textLength="89.4" lengthAdjust="spacingAndGlyphs">CDMSlite(2016)</text>
<text x="58.7" y="216.8" font-size="12" fill="#0000ff" stroke="#0000ff" stroke-width="0.25" textLength="63.5" lengthAdjust="spacingAndGlyphs">XENON100</text>
<text x="58.7" y="234.2" font-size="12" fill="#0000ff" stroke="#0000ff" stroke-width="0.25" textLength="57.3" lengthAdjust="spacingAndGlyphs">XENON1T</text>
<text x="58.7" y="251.6" font-size="12" fill="#800080" stroke="#800080" stroke-width="0.25" textLength="60.0" lengthAdjust="spacingAndGlyphs">LUX(2013)</text>
<text x="58.7" y="269.0" font-size="12" fill="#800080" stroke="#800080" stroke-width="0.25" textLength="60.0" lengthAdjust="spacingAndGlyphs">LUX(2016)</text>
<text x="58.7" y="286.4" font-size="12" fill="#800080" stroke="#800080" stroke-width="0.25" textLength="14.7" lengthAdjust="spacingAndGlyphs">LZ</text>
<text x="58.7" y="303.9" font-size="12" fill="#8c8c8c" stroke="#8c8c8c" stroke-width="0.25" textLength="58.6" lengthAdjust="spacingAndGlyphs">PandaX–II</text>
<text x="58.7" y="321.3" font-size="12" fill="#00aa00" stroke="#00aa00" stroke-width="0.25" textLength="49.9" lengthAdjust="spacingAndGlyphs">PICO–60</text>
<text x="58.7" y="338.7" font-size="12" fill="#00aa00" stroke="#00aa00" stroke-width="0.25" textLength="57.3" lengthAdjust="spacingAndGlyphs">PICO–250</text>
<path d="M51.10 354.30 v-4.3 M51.10 7.00 v4.3 M68.44 354.30 v-2.5 M68.44 7.00 v2.5 M85.79 354.30 v-2.5 M85.79 7.00 v2.5 M103.13 354.30 v-2.5 M103.13 7.00 v2.5 M120.48 354.30 v-4.3 M120.48 7.00 v4.3 M137.82 354.30 v-2.5 M137.82 7.00 v2.5 M155.17 354.30 v-2.5 M155.17 7.00 v2.5 M172.51 354.30 v-2.5 M172.51 7.00 v2.5 M189.86 354.30 v-4.3 M189.86 7.00 v4.3 M207.20 354.30 v-2.5 M207.20 7.00 v2.5 M224.55 354.30 v-2.5 M224.55 7.00 v2.5 M241.89 354.30 v-2.5 M241.89 7.00 v2.5 M259.24 354.30 v-4.3 M259.24 7.00 v4.3 M276.58 354.30 v-2.5 M276.58 7.00 v2.5 M293.93 354.30 v-2.5 M293.93 7.00 v2.5 M311.27 354.30 v-2.5 M311.27 7.00 v2.5 M328.62 354.30 v-4.3 M328.62 7.00 v4.3 M345.97 354.30 v-2.5 M345.97 7.00 v2.5 M363.31 354.30 v-2.5 M363.31 7.00 v2.5 M380.66 354.30 v-2.5 M380.66 7.00 v2.5 M398.00 354.30 v-4.3 M398.00 7.00 v4.3 M51.10 7.00 h4.3 M398.00 7.00 h-4.3 M51.10 16.92 h2.5 M398.00 16.92 h-2.5 M51.10 26.85 h2.5 M398.00 26.85 h-2.5 M51.10 36.77 h2.5 M398.00 36.77 h-2.5 M51.10 46.69 h2.5 M398.00 46.69 h-2.5 M51.10 56.61 h4.3 M398.00 56.61 h-4.3 M51.10 66.54 h2.5 M398.00 66.54 h-2.5 M51.10 76.46 h2.5 M398.00 76.46 h-2.5 M51.10 86.38 h2.5 M398.00 86.38 h-2.5 M51.10 96.31 h2.5 M398.00 96.31 h-2.5 M51.10 106.23 h4.3 M398.00 106.23 h-4.3 M51.10 116.15 h2.5 M398.00 116.15 h-2.5 M51.10 126.07 h2.5 M398.00 126.07 h-2.5 M51.10 136.00 h2.5 M398.00 136.00 h-2.5 M51.10 145.92 h2.5 M398.00 145.92 h-2.5 M51.10 155.84 h4.3 M398.00 155.84 h-4.3 M51.10 165.77 h2.5 M398.00 165.77 h-2.5 M51.10 175.69 h2.5 M398.00 175.69 h-2.5 M51.10 185.61 h2.5 M398.00 185.61 h-2.5 M51.10 195.53 h2.5 M398.00 195.53 h-2.5 M51.10 205.46 h4.3 M398.00 205.46 h-4.3 M51.10 215.38 h2.5 M398.00 215.38 h-2.5 M51.10 225.30 h2.5 M398.00 225.30 h-2.5 M51.10 235.23 h2.5 M398.00 235.23 h-2.5 M51.10 245.15 h2.5 M398.00 245.15 h-2.5 M51.10 255.07 h4.3 M398.00 255.07 h-4.3 M51.10 264.99 h2.5 M398.00 264.99 h-2.5 M51.10 274.92 h2.5 M398.00 274.92 h-2.5 M51.10 284.84 h2.5 M398.00 284.84 h-2.5 M51.10 294.76 h2.5 M398.00 294.76 h-2.5 M51.10 304.69 h4.3 M398.00 304.69 h-4.3 M51.10 314.61 h2.5 M398.00 314.61 h-2.5 M51.10 324.53 h2.5 M398.00 324.53 h-2.5 M51.10 334.45 h2.5 M398.00 334.45 h-2.5 M51.10 344.38 h2.5 M398.00 344.38 h-2.5 M51.10 354.30 h4.3 M398.00 354.30 h-4.3" stroke="#000" stroke-width="1" fill="none"/>
<rect x="51.1" y="7" width="346.9" height="347.3" fill="none" stroke="#000" stroke-width="1.4"/>
<text class="k" transform="translate(47.8 11.6) scale(1.12 1)" font-size="12" text-anchor="end">21</text>
<rect x="24.2" y="7.55" width="7" height="1.5"/>
<text class="k" transform="translate(47.8 61.2) scale(1.12 1)" font-size="12" text-anchor="end">22</text>
<rect x="24.2" y="57.16" width="7" height="1.5"/>
<text class="k" transform="translate(47.8 110.8) scale(1.12 1)" font-size="12" text-anchor="end">23</text>
<rect x="24.2" y="106.78" width="7" height="1.5"/>
<text class="k" transform="translate(47.8 160.4) scale(1.12 1)" font-size="12" text-anchor="end">24</text>
<rect x="24.2" y="156.39" width="7" height="1.5"/>
<text class="k" transform="translate(47.8 210.1) scale(1.12 1)" font-size="12" text-anchor="end">25</text>
<rect x="24.2" y="206.01" width="7" height="1.5"/>
<text class="k" transform="translate(47.8 259.7) scale(1.12 1)" font-size="12" text-anchor="end">26</text>
<rect x="24.2" y="255.62" width="7" height="1.5"/>
<text class="k" transform="translate(47.8 309.3) scale(1.12 1)" font-size="12" text-anchor="end">27</text>
<rect x="24.2" y="305.24" width="7" height="1.5"/>
<text class="k" transform="translate(47.8 358.9) scale(1.12 1)" font-size="12" text-anchor="end">28</text>
<rect x="24.2" y="354.85" width="7" height="1.5"/>
<text class="k" transform="translate(51.1 369.1) scale(1.12 1)" font-size="12" text-anchor="middle">0</text>
<text class="k" transform="translate(120.5 369.1) scale(1.12 1)" font-size="12" text-anchor="middle">200</text>
<text class="k" transform="translate(189.9 369.1) scale(1.12 1)" font-size="12" text-anchor="middle">400</text>
<text class="k" transform="translate(259.2 369.1) scale(1.12 1)" font-size="12" text-anchor="middle">600</text>
<text class="k" transform="translate(328.6 369.1) scale(1.12 1)" font-size="12" text-anchor="middle">800</text>
<text class="k" transform="translate(398.0 369.1) scale(1.12 1)" font-size="12" text-anchor="middle">1000</text>
<text class="k" x="187.6" y="390.3" font-size="13"><tspan font-style="italic">v</tspan><tspan font-size="9" dy="2" dx="-0.3">min</tspan><tspan dy="-2" x="219.4" textLength="38.6" lengthAdjust="spacingAndGlyphs">[km/s]</tspan></text>
<g class="k" transform="translate(15.1 239.3) rotate(-90)" font-size="13"><text x="0" y="0">Log</text><text x="24" y="3.1" font-size="9.6">10</text><text x="38" y="0">(</text><text x="47.3" y="0" font-style="italic">η</text><text x="47.6" y="-5.2" font-style="italic" font-size="12">~</text><text x="59.3" y="0">[days</text><text x="96.1" y="-6.1" font-size="9.6">−1</text><text x="108.5" y="0">])</text></g>
<text class="k" x="311.5" y="31.5" font-size="12.3"><tspan font-style="italic">δ</tspan> = −225 keV</text>
<text class="k" x="311.5" y="48.5" font-size="12.3">m = 1.2 GeV</text>
<text class="k" x="311.5" y="65.8" font-size="12.3"><tspan font-style="italic">f</tspan><tspan font-style="italic" font-size="8.8" dy="2" dx="0.3">n</tspan><tspan dy="-2" dx="0.5">/</tspan><tspan font-style="italic">f</tspan><tspan font-style="italic" font-size="8.8" dy="2">p</tspan><tspan dy="-2" dx="0.4"> = −0.7</tspan></text>
</svg></body></html>
